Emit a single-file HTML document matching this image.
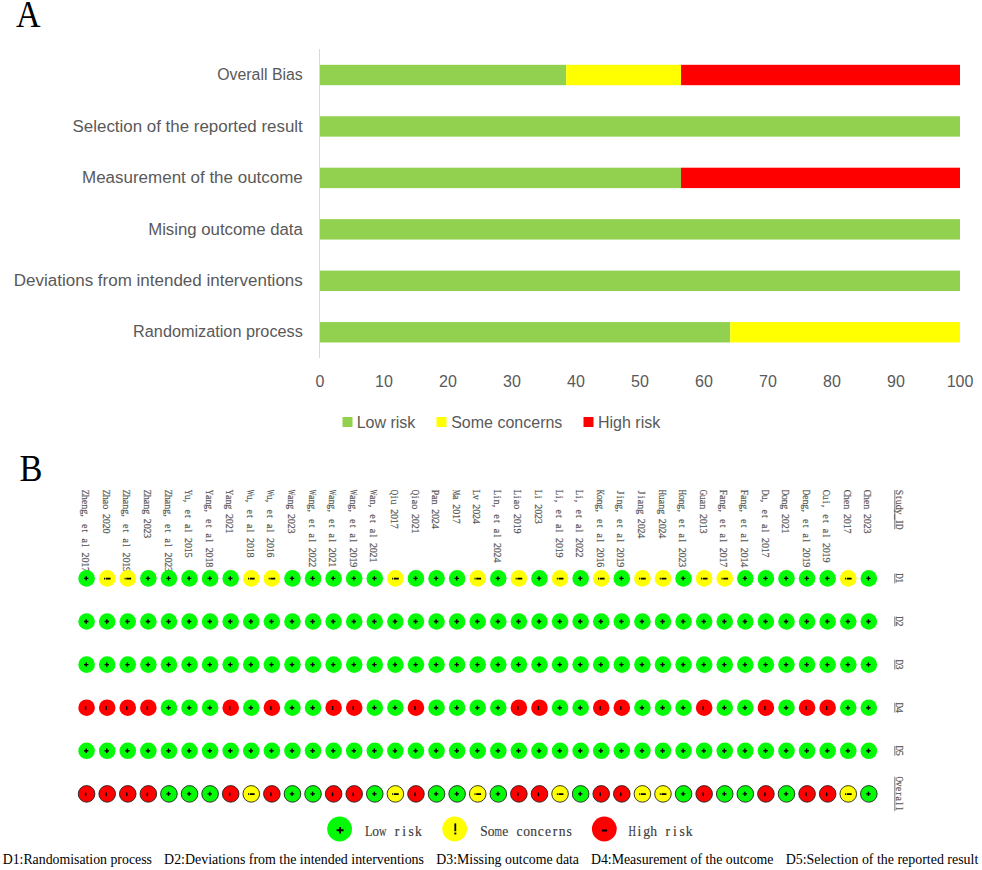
<!DOCTYPE html><html><head><meta charset="utf-8"><style>html,body{margin:0;padding:0;background:#fff;width:982px;height:870px;overflow:hidden}svg{display:block}</style></head><body>
<svg width="982" height="870" viewBox="0 0 982 870">
<text transform="translate(16.1,26.5) scale(0.92,1)" font-family="&quot;Liberation Serif&quot;, serif" font-size="37" fill="#000">A</text>
<line x1="319.5" y1="49" x2="319.5" y2="358" stroke="#d9d9d9" stroke-width="1"/>
<rect x="320.00" y="64.80" width="246.15" height="20.4" fill="#92d050"/>
<rect x="566.15" y="64.80" width="114.87" height="20.4" fill="#ffff00"/>
<rect x="681.03" y="64.80" width="278.97" height="20.4" fill="#ff0000"/>
<text x="217.2" y="80.2" font-family="&quot;Liberation Sans&quot;, sans-serif" font-size="16" fill="#595959" textLength="85.6" lengthAdjust="spacingAndGlyphs">Overall Bias</text>
<rect x="320.00" y="116.25" width="640.00" height="20.4" fill="#92d050"/>
<text x="72.6" y="131.7" font-family="&quot;Liberation Sans&quot;, sans-serif" font-size="16" fill="#595959" textLength="230.2" lengthAdjust="spacingAndGlyphs">Selection of the reported result</text>
<rect x="320.00" y="167.70" width="361.03" height="20.4" fill="#92d050"/>
<rect x="681.03" y="167.70" width="278.97" height="20.4" fill="#ff0000"/>
<text x="82.0" y="183.1" font-family="&quot;Liberation Sans&quot;, sans-serif" font-size="16" fill="#595959" textLength="220.8" lengthAdjust="spacingAndGlyphs">Measurement of the outcome</text>
<rect x="320.00" y="219.15" width="640.00" height="20.4" fill="#92d050"/>
<text x="148.2" y="234.6" font-family="&quot;Liberation Sans&quot;, sans-serif" font-size="16" fill="#595959" textLength="154.6" lengthAdjust="spacingAndGlyphs">Mising outcome data</text>
<rect x="320.00" y="270.60" width="640.00" height="20.4" fill="#92d050"/>
<text x="13.8" y="286.0" font-family="&quot;Liberation Sans&quot;, sans-serif" font-size="16" fill="#595959" textLength="289.0" lengthAdjust="spacingAndGlyphs">Deviations from intended interventions</text>
<rect x="320.00" y="322.05" width="410.26" height="20.4" fill="#92d050"/>
<rect x="730.26" y="322.05" width="229.74" height="20.4" fill="#ffff00"/>
<text x="133.1" y="337.4" font-family="&quot;Liberation Sans&quot;, sans-serif" font-size="16" fill="#595959" textLength="169.7" lengthAdjust="spacingAndGlyphs">Randomization process</text>
<text x="320" y="387.4" font-family="&quot;Liberation Sans&quot;, sans-serif" font-size="16" fill="#595959" text-anchor="middle">0</text>
<text x="384" y="387.4" font-family="&quot;Liberation Sans&quot;, sans-serif" font-size="16" fill="#595959" text-anchor="middle">10</text>
<text x="448" y="387.4" font-family="&quot;Liberation Sans&quot;, sans-serif" font-size="16" fill="#595959" text-anchor="middle">20</text>
<text x="512" y="387.4" font-family="&quot;Liberation Sans&quot;, sans-serif" font-size="16" fill="#595959" text-anchor="middle">30</text>
<text x="576" y="387.4" font-family="&quot;Liberation Sans&quot;, sans-serif" font-size="16" fill="#595959" text-anchor="middle">40</text>
<text x="640" y="387.4" font-family="&quot;Liberation Sans&quot;, sans-serif" font-size="16" fill="#595959" text-anchor="middle">50</text>
<text x="704" y="387.4" font-family="&quot;Liberation Sans&quot;, sans-serif" font-size="16" fill="#595959" text-anchor="middle">60</text>
<text x="768" y="387.4" font-family="&quot;Liberation Sans&quot;, sans-serif" font-size="16" fill="#595959" text-anchor="middle">70</text>
<text x="832" y="387.4" font-family="&quot;Liberation Sans&quot;, sans-serif" font-size="16" fill="#595959" text-anchor="middle">80</text>
<text x="896" y="387.4" font-family="&quot;Liberation Sans&quot;, sans-serif" font-size="16" fill="#595959" text-anchor="middle">90</text>
<text x="960" y="387.4" font-family="&quot;Liberation Sans&quot;, sans-serif" font-size="16" fill="#595959" text-anchor="middle">100</text>
<rect x="342.5" y="417" width="10" height="10" fill="#92d050"/>
<text x="356.7" y="427.5" font-family="&quot;Liberation Sans&quot;, sans-serif" font-size="16" fill="#595959">Low risk</text>
<rect x="436.5" y="417" width="10" height="10" fill="#ffff00"/>
<text x="451.2" y="427.5" font-family="&quot;Liberation Sans&quot;, sans-serif" font-size="16" fill="#595959">Some concerns</text>
<rect x="583.5" y="417" width="10" height="10" fill="#ff0000"/>
<text x="598" y="427.5" font-family="&quot;Liberation Sans&quot;, sans-serif" font-size="16" fill="#595959">High risk</text>
<text transform="translate(19.6,480.7) scale(0.93,1)" font-family="&quot;Liberation Serif&quot;, serif" font-size="37" fill="#000">B</text>
<g transform="translate(82.20,490) rotate(90)"><g font-family="&quot;Liberation Serif&quot;, serif" font-size="11.2" fill="#525252" stroke="#525252" stroke-width="0.18"><text transform="translate(2.41,0) scale(0.789,1)" text-anchor="middle">Z</text><text transform="translate(7.23,0) scale(0.900,1)" text-anchor="middle">h</text><text transform="translate(12.05,0) scale(0.900,1)" text-anchor="middle">e</text><text transform="translate(16.87,0) scale(0.900,1)" text-anchor="middle">n</text><text transform="translate(21.69,0) scale(0.900,1)" text-anchor="middle">g</text><text transform="translate(25.55,0) scale(0.900,1)" text-anchor="middle">,</text><text transform="translate(36.15,0) scale(0.900,1)" text-anchor="middle">e</text><text transform="translate(40.97,0) scale(0.900,1)" text-anchor="middle">t</text><text transform="translate(50.61,0) scale(0.900,1)" text-anchor="middle">a</text><text transform="translate(55.43,0) scale(0.900,1)" text-anchor="middle">l</text><text transform="translate(65.07,0) scale(0.900,1)" text-anchor="middle">2</text><text transform="translate(69.89,0) scale(0.900,1)" text-anchor="middle">0</text><text transform="translate(74.71,0) scale(0.900,1)" text-anchor="middle">1</text><text transform="translate(79.53,0) scale(0.900,1)" text-anchor="middle">7</text></g></g>
<g transform="translate(102.78,490) rotate(90)"><g font-family="&quot;Liberation Serif&quot;, serif" font-size="11.2" fill="#525252" stroke="#525252" stroke-width="0.18"><text transform="translate(2.41,0) scale(0.789,1)" text-anchor="middle">Z</text><text transform="translate(7.23,0) scale(0.900,1)" text-anchor="middle">h</text><text transform="translate(12.05,0) scale(0.900,1)" text-anchor="middle">a</text><text transform="translate(16.87,0) scale(0.900,1)" text-anchor="middle">o</text><text transform="translate(26.51,0) scale(0.900,1)" text-anchor="middle">2</text><text transform="translate(31.33,0) scale(0.900,1)" text-anchor="middle">0</text><text transform="translate(36.15,0) scale(0.900,1)" text-anchor="middle">2</text><text transform="translate(40.97,0) scale(0.900,1)" text-anchor="middle">0</text></g></g>
<g transform="translate(123.37,490) rotate(90)"><g font-family="&quot;Liberation Serif&quot;, serif" font-size="11.2" fill="#525252" stroke="#525252" stroke-width="0.18"><text transform="translate(2.41,0) scale(0.789,1)" text-anchor="middle">Z</text><text transform="translate(7.23,0) scale(0.900,1)" text-anchor="middle">h</text><text transform="translate(12.05,0) scale(0.900,1)" text-anchor="middle">a</text><text transform="translate(16.87,0) scale(0.900,1)" text-anchor="middle">n</text><text transform="translate(21.69,0) scale(0.900,1)" text-anchor="middle">g</text><text transform="translate(25.55,0) scale(0.900,1)" text-anchor="middle">,</text><text transform="translate(36.15,0) scale(0.900,1)" text-anchor="middle">e</text><text transform="translate(40.97,0) scale(0.900,1)" text-anchor="middle">t</text><text transform="translate(50.61,0) scale(0.900,1)" text-anchor="middle">a</text><text transform="translate(55.43,0) scale(0.900,1)" text-anchor="middle">l</text><text transform="translate(65.07,0) scale(0.900,1)" text-anchor="middle">2</text><text transform="translate(69.89,0) scale(0.900,1)" text-anchor="middle">0</text><text transform="translate(74.71,0) scale(0.900,1)" text-anchor="middle">1</text><text transform="translate(79.53,0) scale(0.900,1)" text-anchor="middle">9</text></g></g>
<g transform="translate(143.95,490) rotate(90)"><g font-family="&quot;Liberation Serif&quot;, serif" font-size="11.2" fill="#525252" stroke="#525252" stroke-width="0.18"><text transform="translate(2.41,0) scale(0.789,1)" text-anchor="middle">Z</text><text transform="translate(7.23,0) scale(0.900,1)" text-anchor="middle">h</text><text transform="translate(12.05,0) scale(0.900,1)" text-anchor="middle">a</text><text transform="translate(16.87,0) scale(0.900,1)" text-anchor="middle">n</text><text transform="translate(21.69,0) scale(0.900,1)" text-anchor="middle">g</text><text transform="translate(31.33,0) scale(0.900,1)" text-anchor="middle">2</text><text transform="translate(36.15,0) scale(0.900,1)" text-anchor="middle">0</text><text transform="translate(40.97,0) scale(0.900,1)" text-anchor="middle">2</text><text transform="translate(45.79,0) scale(0.900,1)" text-anchor="middle">3</text></g></g>
<g transform="translate(164.54,490) rotate(90)"><g font-family="&quot;Liberation Serif&quot;, serif" font-size="11.2" fill="#525252" stroke="#525252" stroke-width="0.18"><text transform="translate(2.41,0) scale(0.789,1)" text-anchor="middle">Z</text><text transform="translate(7.23,0) scale(0.900,1)" text-anchor="middle">h</text><text transform="translate(12.05,0) scale(0.900,1)" text-anchor="middle">a</text><text transform="translate(16.87,0) scale(0.900,1)" text-anchor="middle">n</text><text transform="translate(21.69,0) scale(0.900,1)" text-anchor="middle">g</text><text transform="translate(25.55,0) scale(0.900,1)" text-anchor="middle">,</text><text transform="translate(36.15,0) scale(0.900,1)" text-anchor="middle">e</text><text transform="translate(40.97,0) scale(0.900,1)" text-anchor="middle">t</text><text transform="translate(50.61,0) scale(0.900,1)" text-anchor="middle">a</text><text transform="translate(55.43,0) scale(0.900,1)" text-anchor="middle">l</text><text transform="translate(65.07,0) scale(0.900,1)" text-anchor="middle">2</text><text transform="translate(69.89,0) scale(0.900,1)" text-anchor="middle">0</text><text transform="translate(74.71,0) scale(0.900,1)" text-anchor="middle">2</text><text transform="translate(79.53,0) scale(0.900,1)" text-anchor="middle">3</text></g></g>
<g transform="translate(185.12,490) rotate(90)"><g font-family="&quot;Liberation Serif&quot;, serif" font-size="11.2" fill="#525252" stroke="#525252" stroke-width="0.18"><text transform="translate(2.41,0) scale(0.667,1)" text-anchor="middle">Y</text><text transform="translate(7.23,0) scale(0.900,1)" text-anchor="middle">u</text><text transform="translate(11.09,0) scale(0.900,1)" text-anchor="middle">,</text><text transform="translate(21.69,0) scale(0.900,1)" text-anchor="middle">e</text><text transform="translate(26.51,0) scale(0.900,1)" text-anchor="middle">t</text><text transform="translate(36.15,0) scale(0.900,1)" text-anchor="middle">a</text><text transform="translate(40.97,0) scale(0.900,1)" text-anchor="middle">l</text><text transform="translate(50.61,0) scale(0.900,1)" text-anchor="middle">2</text><text transform="translate(55.43,0) scale(0.900,1)" text-anchor="middle">0</text><text transform="translate(60.25,0) scale(0.900,1)" text-anchor="middle">1</text><text transform="translate(65.07,0) scale(0.900,1)" text-anchor="middle">5</text></g></g>
<g transform="translate(205.71,490) rotate(90)"><g font-family="&quot;Liberation Serif&quot;, serif" font-size="11.2" fill="#525252" stroke="#525252" stroke-width="0.18"><text transform="translate(2.41,0) scale(0.667,1)" text-anchor="middle">Y</text><text transform="translate(7.23,0) scale(0.900,1)" text-anchor="middle">a</text><text transform="translate(12.05,0) scale(0.900,1)" text-anchor="middle">n</text><text transform="translate(16.87,0) scale(0.900,1)" text-anchor="middle">g</text><text transform="translate(20.73,0) scale(0.900,1)" text-anchor="middle">,</text><text transform="translate(31.33,0) scale(0.900,1)" text-anchor="middle">e</text><text transform="translate(36.15,0) scale(0.900,1)" text-anchor="middle">t</text><text transform="translate(45.79,0) scale(0.900,1)" text-anchor="middle">a</text><text transform="translate(50.61,0) scale(0.900,1)" text-anchor="middle">l</text><text transform="translate(60.25,0) scale(0.900,1)" text-anchor="middle">2</text><text transform="translate(65.07,0) scale(0.900,1)" text-anchor="middle">0</text><text transform="translate(69.89,0) scale(0.900,1)" text-anchor="middle">1</text><text transform="translate(74.71,0) scale(0.900,1)" text-anchor="middle">8</text></g></g>
<g transform="translate(226.29,490) rotate(90)"><g font-family="&quot;Liberation Serif&quot;, serif" font-size="11.2" fill="#525252" stroke="#525252" stroke-width="0.18"><text transform="translate(2.41,0) scale(0.667,1)" text-anchor="middle">Y</text><text transform="translate(7.23,0) scale(0.900,1)" text-anchor="middle">a</text><text transform="translate(12.05,0) scale(0.900,1)" text-anchor="middle">n</text><text transform="translate(16.87,0) scale(0.900,1)" text-anchor="middle">g</text><text transform="translate(26.51,0) scale(0.900,1)" text-anchor="middle">2</text><text transform="translate(31.33,0) scale(0.900,1)" text-anchor="middle">0</text><text transform="translate(36.15,0) scale(0.900,1)" text-anchor="middle">2</text><text transform="translate(40.97,0) scale(0.900,1)" text-anchor="middle">1</text></g></g>
<g transform="translate(246.88,490) rotate(90)"><g font-family="&quot;Liberation Serif&quot;, serif" font-size="11.2" fill="#525252" stroke="#525252" stroke-width="0.18"><text transform="translate(2.41,0) scale(0.511,1)" text-anchor="middle">W</text><text transform="translate(7.23,0) scale(0.900,1)" text-anchor="middle">u</text><text transform="translate(11.09,0) scale(0.900,1)" text-anchor="middle">,</text><text transform="translate(21.69,0) scale(0.900,1)" text-anchor="middle">e</text><text transform="translate(26.51,0) scale(0.900,1)" text-anchor="middle">t</text><text transform="translate(36.15,0) scale(0.900,1)" text-anchor="middle">a</text><text transform="translate(40.97,0) scale(0.900,1)" text-anchor="middle">l</text><text transform="translate(50.61,0) scale(0.900,1)" text-anchor="middle">2</text><text transform="translate(55.43,0) scale(0.900,1)" text-anchor="middle">0</text><text transform="translate(60.25,0) scale(0.900,1)" text-anchor="middle">1</text><text transform="translate(65.07,0) scale(0.900,1)" text-anchor="middle">8</text></g></g>
<g transform="translate(267.47,490) rotate(90)"><g font-family="&quot;Liberation Serif&quot;, serif" font-size="11.2" fill="#525252" stroke="#525252" stroke-width="0.18"><text transform="translate(2.41,0) scale(0.511,1)" text-anchor="middle">W</text><text transform="translate(7.23,0) scale(0.900,1)" text-anchor="middle">u</text><text transform="translate(11.09,0) scale(0.900,1)" text-anchor="middle">,</text><text transform="translate(21.69,0) scale(0.900,1)" text-anchor="middle">e</text><text transform="translate(26.51,0) scale(0.900,1)" text-anchor="middle">t</text><text transform="translate(36.15,0) scale(0.900,1)" text-anchor="middle">a</text><text transform="translate(40.97,0) scale(0.900,1)" text-anchor="middle">l</text><text transform="translate(50.61,0) scale(0.900,1)" text-anchor="middle">2</text><text transform="translate(55.43,0) scale(0.900,1)" text-anchor="middle">0</text><text transform="translate(60.25,0) scale(0.900,1)" text-anchor="middle">1</text><text transform="translate(65.07,0) scale(0.900,1)" text-anchor="middle">6</text></g></g>
<g transform="translate(288.05,490) rotate(90)"><g font-family="&quot;Liberation Serif&quot;, serif" font-size="11.2" fill="#525252" stroke="#525252" stroke-width="0.18"><text transform="translate(2.41,0) scale(0.511,1)" text-anchor="middle">W</text><text transform="translate(7.23,0) scale(0.900,1)" text-anchor="middle">a</text><text transform="translate(12.05,0) scale(0.900,1)" text-anchor="middle">n</text><text transform="translate(16.87,0) scale(0.900,1)" text-anchor="middle">g</text><text transform="translate(26.51,0) scale(0.900,1)" text-anchor="middle">2</text><text transform="translate(31.33,0) scale(0.900,1)" text-anchor="middle">0</text><text transform="translate(36.15,0) scale(0.900,1)" text-anchor="middle">2</text><text transform="translate(40.97,0) scale(0.900,1)" text-anchor="middle">3</text></g></g>
<g transform="translate(308.63,490) rotate(90)"><g font-family="&quot;Liberation Serif&quot;, serif" font-size="11.2" fill="#525252" stroke="#525252" stroke-width="0.18"><text transform="translate(2.41,0) scale(0.511,1)" text-anchor="middle">W</text><text transform="translate(7.23,0) scale(0.900,1)" text-anchor="middle">a</text><text transform="translate(12.05,0) scale(0.900,1)" text-anchor="middle">n</text><text transform="translate(16.87,0) scale(0.900,1)" text-anchor="middle">g</text><text transform="translate(20.73,0) scale(0.900,1)" text-anchor="middle">,</text><text transform="translate(31.33,0) scale(0.900,1)" text-anchor="middle">e</text><text transform="translate(36.15,0) scale(0.900,1)" text-anchor="middle">t</text><text transform="translate(45.79,0) scale(0.900,1)" text-anchor="middle">a</text><text transform="translate(50.61,0) scale(0.900,1)" text-anchor="middle">l</text><text transform="translate(60.25,0) scale(0.900,1)" text-anchor="middle">2</text><text transform="translate(65.07,0) scale(0.900,1)" text-anchor="middle">0</text><text transform="translate(69.89,0) scale(0.900,1)" text-anchor="middle">2</text><text transform="translate(74.71,0) scale(0.900,1)" text-anchor="middle">2</text></g></g>
<g transform="translate(329.22,490) rotate(90)"><g font-family="&quot;Liberation Serif&quot;, serif" font-size="11.2" fill="#525252" stroke="#525252" stroke-width="0.18"><text transform="translate(2.41,0) scale(0.511,1)" text-anchor="middle">W</text><text transform="translate(7.23,0) scale(0.900,1)" text-anchor="middle">a</text><text transform="translate(12.05,0) scale(0.900,1)" text-anchor="middle">n</text><text transform="translate(16.87,0) scale(0.900,1)" text-anchor="middle">g</text><text transform="translate(20.73,0) scale(0.900,1)" text-anchor="middle">,</text><text transform="translate(31.33,0) scale(0.900,1)" text-anchor="middle">e</text><text transform="translate(36.15,0) scale(0.900,1)" text-anchor="middle">t</text><text transform="translate(45.79,0) scale(0.900,1)" text-anchor="middle">a</text><text transform="translate(50.61,0) scale(0.900,1)" text-anchor="middle">l</text><text transform="translate(60.25,0) scale(0.900,1)" text-anchor="middle">2</text><text transform="translate(65.07,0) scale(0.900,1)" text-anchor="middle">0</text><text transform="translate(69.89,0) scale(0.900,1)" text-anchor="middle">2</text><text transform="translate(74.71,0) scale(0.900,1)" text-anchor="middle">1</text></g></g>
<g transform="translate(349.81,490) rotate(90)"><g font-family="&quot;Liberation Serif&quot;, serif" font-size="11.2" fill="#525252" stroke="#525252" stroke-width="0.18"><text transform="translate(2.41,0) scale(0.511,1)" text-anchor="middle">W</text><text transform="translate(7.23,0) scale(0.900,1)" text-anchor="middle">a</text><text transform="translate(12.05,0) scale(0.900,1)" text-anchor="middle">n</text><text transform="translate(16.87,0) scale(0.900,1)" text-anchor="middle">g</text><text transform="translate(20.73,0) scale(0.900,1)" text-anchor="middle">,</text><text transform="translate(31.33,0) scale(0.900,1)" text-anchor="middle">e</text><text transform="translate(36.15,0) scale(0.900,1)" text-anchor="middle">t</text><text transform="translate(45.79,0) scale(0.900,1)" text-anchor="middle">a</text><text transform="translate(50.61,0) scale(0.900,1)" text-anchor="middle">l</text><text transform="translate(60.25,0) scale(0.900,1)" text-anchor="middle">2</text><text transform="translate(65.07,0) scale(0.900,1)" text-anchor="middle">0</text><text transform="translate(69.89,0) scale(0.900,1)" text-anchor="middle">1</text><text transform="translate(74.71,0) scale(0.900,1)" text-anchor="middle">9</text></g></g>
<g transform="translate(370.39,490) rotate(90)"><g font-family="&quot;Liberation Serif&quot;, serif" font-size="11.2" fill="#525252" stroke="#525252" stroke-width="0.18"><text transform="translate(2.41,0) scale(0.511,1)" text-anchor="middle">W</text><text transform="translate(7.23,0) scale(0.900,1)" text-anchor="middle">a</text><text transform="translate(12.05,0) scale(0.900,1)" text-anchor="middle">n</text><text transform="translate(15.91,0) scale(0.900,1)" text-anchor="middle">,</text><text transform="translate(26.51,0) scale(0.900,1)" text-anchor="middle">e</text><text transform="translate(31.33,0) scale(0.900,1)" text-anchor="middle">t</text><text transform="translate(40.97,0) scale(0.900,1)" text-anchor="middle">a</text><text transform="translate(45.79,0) scale(0.900,1)" text-anchor="middle">l</text><text transform="translate(55.43,0) scale(0.900,1)" text-anchor="middle">2</text><text transform="translate(60.25,0) scale(0.900,1)" text-anchor="middle">0</text><text transform="translate(65.07,0) scale(0.900,1)" text-anchor="middle">2</text><text transform="translate(69.89,0) scale(0.900,1)" text-anchor="middle">1</text></g></g>
<g transform="translate(390.98,490) rotate(90)"><g font-family="&quot;Liberation Serif&quot;, serif" font-size="11.2" fill="#525252" stroke="#525252" stroke-width="0.18"><text transform="translate(2.41,0) scale(0.667,1)" text-anchor="middle">Q</text><text transform="translate(7.23,0) scale(0.900,1)" text-anchor="middle">i</text><text transform="translate(12.05,0) scale(0.900,1)" text-anchor="middle">u</text><text transform="translate(21.69,0) scale(0.900,1)" text-anchor="middle">2</text><text transform="translate(26.51,0) scale(0.900,1)" text-anchor="middle">0</text><text transform="translate(31.33,0) scale(0.900,1)" text-anchor="middle">1</text><text transform="translate(36.15,0) scale(0.900,1)" text-anchor="middle">7</text></g></g>
<g transform="translate(411.56,490) rotate(90)"><g font-family="&quot;Liberation Serif&quot;, serif" font-size="11.2" fill="#525252" stroke="#525252" stroke-width="0.18"><text transform="translate(2.41,0) scale(0.667,1)" text-anchor="middle">Q</text><text transform="translate(7.23,0) scale(0.900,1)" text-anchor="middle">i</text><text transform="translate(12.05,0) scale(0.900,1)" text-anchor="middle">a</text><text transform="translate(16.87,0) scale(0.900,1)" text-anchor="middle">o</text><text transform="translate(26.51,0) scale(0.900,1)" text-anchor="middle">2</text><text transform="translate(31.33,0) scale(0.900,1)" text-anchor="middle">0</text><text transform="translate(36.15,0) scale(0.900,1)" text-anchor="middle">2</text><text transform="translate(40.97,0) scale(0.900,1)" text-anchor="middle">1</text></g></g>
<g transform="translate(432.14,490) rotate(90)"><g font-family="&quot;Liberation Serif&quot;, serif" font-size="11.2" fill="#525252" stroke="#525252" stroke-width="0.18"><text transform="translate(2.41,0) scale(0.867,1)" text-anchor="middle">P</text><text transform="translate(7.23,0) scale(0.900,1)" text-anchor="middle">a</text><text transform="translate(12.05,0) scale(0.900,1)" text-anchor="middle">n</text><text transform="translate(21.69,0) scale(0.900,1)" text-anchor="middle">2</text><text transform="translate(26.51,0) scale(0.900,1)" text-anchor="middle">0</text><text transform="translate(31.33,0) scale(0.900,1)" text-anchor="middle">2</text><text transform="translate(36.15,0) scale(0.900,1)" text-anchor="middle">4</text></g></g>
<g transform="translate(452.73,490) rotate(90)"><g font-family="&quot;Liberation Serif&quot;, serif" font-size="11.2" fill="#525252" stroke="#525252" stroke-width="0.18"><text transform="translate(2.41,0) scale(0.542,1)" text-anchor="middle">M</text><text transform="translate(7.23,0) scale(0.900,1)" text-anchor="middle">a</text><text transform="translate(16.87,0) scale(0.900,1)" text-anchor="middle">2</text><text transform="translate(21.69,0) scale(0.900,1)" text-anchor="middle">0</text><text transform="translate(26.51,0) scale(0.900,1)" text-anchor="middle">1</text><text transform="translate(31.33,0) scale(0.900,1)" text-anchor="middle">7</text></g></g>
<g transform="translate(473.32,490) rotate(90)"><g font-family="&quot;Liberation Serif&quot;, serif" font-size="11.2" fill="#525252" stroke="#525252" stroke-width="0.18"><text transform="translate(2.41,0) scale(0.789,1)" text-anchor="middle">L</text><text transform="translate(7.23,0) scale(0.900,1)" text-anchor="middle">v</text><text transform="translate(16.87,0) scale(0.900,1)" text-anchor="middle">2</text><text transform="translate(21.69,0) scale(0.900,1)" text-anchor="middle">0</text><text transform="translate(26.51,0) scale(0.900,1)" text-anchor="middle">2</text><text transform="translate(31.33,0) scale(0.900,1)" text-anchor="middle">4</text></g></g>
<g transform="translate(493.90,490) rotate(90)"><g font-family="&quot;Liberation Serif&quot;, serif" font-size="11.2" fill="#525252" stroke="#525252" stroke-width="0.18"><text transform="translate(2.41,0) scale(0.789,1)" text-anchor="middle">L</text><text transform="translate(7.23,0) scale(0.900,1)" text-anchor="middle">i</text><text transform="translate(12.05,0) scale(0.900,1)" text-anchor="middle">n</text><text transform="translate(15.91,0) scale(0.900,1)" text-anchor="middle">,</text><text transform="translate(26.51,0) scale(0.900,1)" text-anchor="middle">e</text><text transform="translate(31.33,0) scale(0.900,1)" text-anchor="middle">t</text><text transform="translate(40.97,0) scale(0.900,1)" text-anchor="middle">a</text><text transform="translate(45.79,0) scale(0.900,1)" text-anchor="middle">l</text><text transform="translate(55.43,0) scale(0.900,1)" text-anchor="middle">2</text><text transform="translate(60.25,0) scale(0.900,1)" text-anchor="middle">0</text><text transform="translate(65.07,0) scale(0.900,1)" text-anchor="middle">2</text><text transform="translate(69.89,0) scale(0.900,1)" text-anchor="middle">4</text></g></g>
<g transform="translate(514.49,490) rotate(90)"><g font-family="&quot;Liberation Serif&quot;, serif" font-size="11.2" fill="#525252" stroke="#525252" stroke-width="0.18"><text transform="translate(2.41,0) scale(0.789,1)" text-anchor="middle">L</text><text transform="translate(7.23,0) scale(0.900,1)" text-anchor="middle">i</text><text transform="translate(12.05,0) scale(0.900,1)" text-anchor="middle">a</text><text transform="translate(16.87,0) scale(0.900,1)" text-anchor="middle">o</text><text transform="translate(26.51,0) scale(0.900,1)" text-anchor="middle">2</text><text transform="translate(31.33,0) scale(0.900,1)" text-anchor="middle">0</text><text transform="translate(36.15,0) scale(0.900,1)" text-anchor="middle">1</text><text transform="translate(40.97,0) scale(0.900,1)" text-anchor="middle">9</text></g></g>
<g transform="translate(535.07,490) rotate(90)"><g font-family="&quot;Liberation Serif&quot;, serif" font-size="11.2" fill="#525252" stroke="#525252" stroke-width="0.18"><text transform="translate(2.41,0) scale(0.789,1)" text-anchor="middle">L</text><text transform="translate(7.23,0) scale(0.900,1)" text-anchor="middle">i</text><text transform="translate(16.87,0) scale(0.900,1)" text-anchor="middle">2</text><text transform="translate(21.69,0) scale(0.900,1)" text-anchor="middle">0</text><text transform="translate(26.51,0) scale(0.900,1)" text-anchor="middle">2</text><text transform="translate(31.33,0) scale(0.900,1)" text-anchor="middle">3</text></g></g>
<g transform="translate(555.66,490) rotate(90)"><g font-family="&quot;Liberation Serif&quot;, serif" font-size="11.2" fill="#525252" stroke="#525252" stroke-width="0.18"><text transform="translate(2.41,0) scale(0.789,1)" text-anchor="middle">L</text><text transform="translate(7.23,0) scale(0.900,1)" text-anchor="middle">i</text><text transform="translate(11.09,0) scale(0.900,1)" text-anchor="middle">,</text><text transform="translate(21.69,0) scale(0.900,1)" text-anchor="middle">e</text><text transform="translate(26.51,0) scale(0.900,1)" text-anchor="middle">t</text><text transform="translate(36.15,0) scale(0.900,1)" text-anchor="middle">a</text><text transform="translate(40.97,0) scale(0.900,1)" text-anchor="middle">l</text><text transform="translate(50.61,0) scale(0.900,1)" text-anchor="middle">2</text><text transform="translate(55.43,0) scale(0.900,1)" text-anchor="middle">0</text><text transform="translate(60.25,0) scale(0.900,1)" text-anchor="middle">1</text><text transform="translate(65.07,0) scale(0.900,1)" text-anchor="middle">9</text></g></g>
<g transform="translate(576.24,490) rotate(90)"><g font-family="&quot;Liberation Serif&quot;, serif" font-size="11.2" fill="#525252" stroke="#525252" stroke-width="0.18"><text transform="translate(2.41,0) scale(0.789,1)" text-anchor="middle">L</text><text transform="translate(7.23,0) scale(0.900,1)" text-anchor="middle">i</text><text transform="translate(11.09,0) scale(0.900,1)" text-anchor="middle">,</text><text transform="translate(21.69,0) scale(0.900,1)" text-anchor="middle">e</text><text transform="translate(26.51,0) scale(0.900,1)" text-anchor="middle">t</text><text transform="translate(36.15,0) scale(0.900,1)" text-anchor="middle">a</text><text transform="translate(40.97,0) scale(0.900,1)" text-anchor="middle">l</text><text transform="translate(50.61,0) scale(0.900,1)" text-anchor="middle">2</text><text transform="translate(55.43,0) scale(0.900,1)" text-anchor="middle">0</text><text transform="translate(60.25,0) scale(0.900,1)" text-anchor="middle">2</text><text transform="translate(65.07,0) scale(0.900,1)" text-anchor="middle">2</text></g></g>
<g transform="translate(596.83,490) rotate(90)"><g font-family="&quot;Liberation Serif&quot;, serif" font-size="11.2" fill="#525252" stroke="#525252" stroke-width="0.18"><text transform="translate(2.41,0) scale(0.667,1)" text-anchor="middle">K</text><text transform="translate(7.23,0) scale(0.900,1)" text-anchor="middle">o</text><text transform="translate(12.05,0) scale(0.900,1)" text-anchor="middle">n</text><text transform="translate(16.87,0) scale(0.900,1)" text-anchor="middle">g</text><text transform="translate(20.73,0) scale(0.900,1)" text-anchor="middle">,</text><text transform="translate(31.33,0) scale(0.900,1)" text-anchor="middle">e</text><text transform="translate(36.15,0) scale(0.900,1)" text-anchor="middle">t</text><text transform="translate(45.79,0) scale(0.900,1)" text-anchor="middle">a</text><text transform="translate(50.61,0) scale(0.900,1)" text-anchor="middle">l</text><text transform="translate(60.25,0) scale(0.900,1)" text-anchor="middle">2</text><text transform="translate(65.07,0) scale(0.900,1)" text-anchor="middle">0</text><text transform="translate(69.89,0) scale(0.900,1)" text-anchor="middle">1</text><text transform="translate(74.71,0) scale(0.900,1)" text-anchor="middle">6</text></g></g>
<g transform="translate(617.41,490) rotate(90)"><g font-family="&quot;Liberation Serif&quot;, serif" font-size="11.2" fill="#525252" stroke="#525252" stroke-width="0.18"><text transform="translate(2.41,0) scale(0.900,1)" text-anchor="middle">J</text><text transform="translate(7.23,0) scale(0.900,1)" text-anchor="middle">i</text><text transform="translate(12.05,0) scale(0.900,1)" text-anchor="middle">n</text><text transform="translate(16.87,0) scale(0.900,1)" text-anchor="middle">g</text><text transform="translate(20.73,0) scale(0.900,1)" text-anchor="middle">,</text><text transform="translate(31.33,0) scale(0.900,1)" text-anchor="middle">e</text><text transform="translate(36.15,0) scale(0.900,1)" text-anchor="middle">t</text><text transform="translate(45.79,0) scale(0.900,1)" text-anchor="middle">a</text><text transform="translate(50.61,0) scale(0.900,1)" text-anchor="middle">l</text><text transform="translate(60.25,0) scale(0.900,1)" text-anchor="middle">2</text><text transform="translate(65.07,0) scale(0.900,1)" text-anchor="middle">0</text><text transform="translate(69.89,0) scale(0.900,1)" text-anchor="middle">1</text><text transform="translate(74.71,0) scale(0.900,1)" text-anchor="middle">9</text></g></g>
<g transform="translate(638.00,490) rotate(90)"><g font-family="&quot;Liberation Serif&quot;, serif" font-size="11.2" fill="#525252" stroke="#525252" stroke-width="0.18"><text transform="translate(2.41,0) scale(0.900,1)" text-anchor="middle">J</text><text transform="translate(7.23,0) scale(0.900,1)" text-anchor="middle">i</text><text transform="translate(12.05,0) scale(0.900,1)" text-anchor="middle">a</text><text transform="translate(16.87,0) scale(0.900,1)" text-anchor="middle">n</text><text transform="translate(21.69,0) scale(0.900,1)" text-anchor="middle">g</text><text transform="translate(31.33,0) scale(0.900,1)" text-anchor="middle">2</text><text transform="translate(36.15,0) scale(0.900,1)" text-anchor="middle">0</text><text transform="translate(40.97,0) scale(0.900,1)" text-anchor="middle">2</text><text transform="translate(45.79,0) scale(0.900,1)" text-anchor="middle">4</text></g></g>
<g transform="translate(658.58,490) rotate(90)"><g font-family="&quot;Liberation Serif&quot;, serif" font-size="11.2" fill="#525252" stroke="#525252" stroke-width="0.18"><text transform="translate(2.41,0) scale(0.667,1)" text-anchor="middle">H</text><text transform="translate(7.23,0) scale(0.900,1)" text-anchor="middle">u</text><text transform="translate(12.05,0) scale(0.900,1)" text-anchor="middle">a</text><text transform="translate(16.87,0) scale(0.900,1)" text-anchor="middle">n</text><text transform="translate(21.69,0) scale(0.900,1)" text-anchor="middle">g</text><text transform="translate(31.33,0) scale(0.900,1)" text-anchor="middle">2</text><text transform="translate(36.15,0) scale(0.900,1)" text-anchor="middle">0</text><text transform="translate(40.97,0) scale(0.900,1)" text-anchor="middle">2</text><text transform="translate(45.79,0) scale(0.900,1)" text-anchor="middle">4</text></g></g>
<g transform="translate(679.17,490) rotate(90)"><g font-family="&quot;Liberation Serif&quot;, serif" font-size="11.2" fill="#525252" stroke="#525252" stroke-width="0.18"><text transform="translate(2.41,0) scale(0.667,1)" text-anchor="middle">H</text><text transform="translate(7.23,0) scale(0.900,1)" text-anchor="middle">o</text><text transform="translate(12.05,0) scale(0.900,1)" text-anchor="middle">n</text><text transform="translate(16.87,0) scale(0.900,1)" text-anchor="middle">g</text><text transform="translate(20.73,0) scale(0.900,1)" text-anchor="middle">,</text><text transform="translate(31.33,0) scale(0.900,1)" text-anchor="middle">e</text><text transform="translate(36.15,0) scale(0.900,1)" text-anchor="middle">t</text><text transform="translate(45.79,0) scale(0.900,1)" text-anchor="middle">a</text><text transform="translate(50.61,0) scale(0.900,1)" text-anchor="middle">l</text><text transform="translate(60.25,0) scale(0.900,1)" text-anchor="middle">2</text><text transform="translate(65.07,0) scale(0.900,1)" text-anchor="middle">0</text><text transform="translate(69.89,0) scale(0.900,1)" text-anchor="middle">2</text><text transform="translate(74.71,0) scale(0.900,1)" text-anchor="middle">3</text></g></g>
<g transform="translate(699.75,490) rotate(90)"><g font-family="&quot;Liberation Serif&quot;, serif" font-size="11.2" fill="#525252" stroke="#525252" stroke-width="0.18"><text transform="translate(2.41,0) scale(0.667,1)" text-anchor="middle">G</text><text transform="translate(7.23,0) scale(0.900,1)" text-anchor="middle">u</text><text transform="translate(12.05,0) scale(0.900,1)" text-anchor="middle">a</text><text transform="translate(16.87,0) scale(0.900,1)" text-anchor="middle">n</text><text transform="translate(26.51,0) scale(0.900,1)" text-anchor="middle">2</text><text transform="translate(31.33,0) scale(0.900,1)" text-anchor="middle">0</text><text transform="translate(36.15,0) scale(0.900,1)" text-anchor="middle">1</text><text transform="translate(40.97,0) scale(0.900,1)" text-anchor="middle">3</text></g></g>
<g transform="translate(720.34,490) rotate(90)"><g font-family="&quot;Liberation Serif&quot;, serif" font-size="11.2" fill="#525252" stroke="#525252" stroke-width="0.18"><text transform="translate(2.41,0) scale(0.867,1)" text-anchor="middle">F</text><text transform="translate(7.23,0) scale(0.900,1)" text-anchor="middle">a</text><text transform="translate(12.05,0) scale(0.900,1)" text-anchor="middle">n</text><text transform="translate(16.87,0) scale(0.900,1)" text-anchor="middle">g</text><text transform="translate(20.73,0) scale(0.900,1)" text-anchor="middle">,</text><text transform="translate(31.33,0) scale(0.900,1)" text-anchor="middle">e</text><text transform="translate(36.15,0) scale(0.900,1)" text-anchor="middle">t</text><text transform="translate(45.79,0) scale(0.900,1)" text-anchor="middle">a</text><text transform="translate(50.61,0) scale(0.900,1)" text-anchor="middle">l</text><text transform="translate(60.25,0) scale(0.900,1)" text-anchor="middle">2</text><text transform="translate(65.07,0) scale(0.900,1)" text-anchor="middle">0</text><text transform="translate(69.89,0) scale(0.900,1)" text-anchor="middle">1</text><text transform="translate(74.71,0) scale(0.900,1)" text-anchor="middle">7</text></g></g>
<g transform="translate(740.92,490) rotate(90)"><g font-family="&quot;Liberation Serif&quot;, serif" font-size="11.2" fill="#525252" stroke="#525252" stroke-width="0.18"><text transform="translate(2.41,0) scale(0.867,1)" text-anchor="middle">F</text><text transform="translate(7.23,0) scale(0.900,1)" text-anchor="middle">a</text><text transform="translate(12.05,0) scale(0.900,1)" text-anchor="middle">n</text><text transform="translate(16.87,0) scale(0.900,1)" text-anchor="middle">g</text><text transform="translate(20.73,0) scale(0.900,1)" text-anchor="middle">,</text><text transform="translate(31.33,0) scale(0.900,1)" text-anchor="middle">e</text><text transform="translate(36.15,0) scale(0.900,1)" text-anchor="middle">t</text><text transform="translate(45.79,0) scale(0.900,1)" text-anchor="middle">a</text><text transform="translate(50.61,0) scale(0.900,1)" text-anchor="middle">l</text><text transform="translate(60.25,0) scale(0.900,1)" text-anchor="middle">2</text><text transform="translate(65.07,0) scale(0.900,1)" text-anchor="middle">0</text><text transform="translate(69.89,0) scale(0.900,1)" text-anchor="middle">1</text><text transform="translate(74.71,0) scale(0.900,1)" text-anchor="middle">4</text></g></g>
<g transform="translate(761.51,490) rotate(90)"><g font-family="&quot;Liberation Serif&quot;, serif" font-size="11.2" fill="#525252" stroke="#525252" stroke-width="0.18"><text transform="translate(2.41,0) scale(0.667,1)" text-anchor="middle">D</text><text transform="translate(7.23,0) scale(0.900,1)" text-anchor="middle">u</text><text transform="translate(11.09,0) scale(0.900,1)" text-anchor="middle">,</text><text transform="translate(21.69,0) scale(0.900,1)" text-anchor="middle">e</text><text transform="translate(26.51,0) scale(0.900,1)" text-anchor="middle">t</text><text transform="translate(36.15,0) scale(0.900,1)" text-anchor="middle">a</text><text transform="translate(40.97,0) scale(0.900,1)" text-anchor="middle">l</text><text transform="translate(50.61,0) scale(0.900,1)" text-anchor="middle">2</text><text transform="translate(55.43,0) scale(0.900,1)" text-anchor="middle">0</text><text transform="translate(60.25,0) scale(0.900,1)" text-anchor="middle">1</text><text transform="translate(65.07,0) scale(0.900,1)" text-anchor="middle">7</text></g></g>
<g transform="translate(782.09,490) rotate(90)"><g font-family="&quot;Liberation Serif&quot;, serif" font-size="11.2" fill="#525252" stroke="#525252" stroke-width="0.18"><text transform="translate(2.41,0) scale(0.667,1)" text-anchor="middle">D</text><text transform="translate(7.23,0) scale(0.900,1)" text-anchor="middle">o</text><text transform="translate(12.05,0) scale(0.900,1)" text-anchor="middle">n</text><text transform="translate(16.87,0) scale(0.900,1)" text-anchor="middle">g</text><text transform="translate(26.51,0) scale(0.900,1)" text-anchor="middle">2</text><text transform="translate(31.33,0) scale(0.900,1)" text-anchor="middle">0</text><text transform="translate(36.15,0) scale(0.900,1)" text-anchor="middle">2</text><text transform="translate(40.97,0) scale(0.900,1)" text-anchor="middle">1</text></g></g>
<g transform="translate(802.68,490) rotate(90)"><g font-family="&quot;Liberation Serif&quot;, serif" font-size="11.2" fill="#525252" stroke="#525252" stroke-width="0.18"><text transform="translate(2.41,0) scale(0.667,1)" text-anchor="middle">D</text><text transform="translate(7.23,0) scale(0.900,1)" text-anchor="middle">e</text><text transform="translate(12.05,0) scale(0.900,1)" text-anchor="middle">n</text><text transform="translate(16.87,0) scale(0.900,1)" text-anchor="middle">g</text><text transform="translate(20.73,0) scale(0.900,1)" text-anchor="middle">,</text><text transform="translate(31.33,0) scale(0.900,1)" text-anchor="middle">e</text><text transform="translate(36.15,0) scale(0.900,1)" text-anchor="middle">t</text><text transform="translate(45.79,0) scale(0.900,1)" text-anchor="middle">a</text><text transform="translate(50.61,0) scale(0.900,1)" text-anchor="middle">l</text><text transform="translate(60.25,0) scale(0.900,1)" text-anchor="middle">2</text><text transform="translate(65.07,0) scale(0.900,1)" text-anchor="middle">0</text><text transform="translate(69.89,0) scale(0.900,1)" text-anchor="middle">1</text><text transform="translate(74.71,0) scale(0.900,1)" text-anchor="middle">9</text></g></g>
<g transform="translate(823.26,490) rotate(90)"><g font-family="&quot;Liberation Serif&quot;, serif" font-size="11.2" fill="#525252" stroke="#525252" stroke-width="0.18"><text transform="translate(2.41,0) scale(0.723,1)" text-anchor="middle">C</text><text transform="translate(7.23,0) scale(0.900,1)" text-anchor="middle">u</text><text transform="translate(12.05,0) scale(0.900,1)" text-anchor="middle">i</text><text transform="translate(15.91,0) scale(0.900,1)" text-anchor="middle">,</text><text transform="translate(26.51,0) scale(0.900,1)" text-anchor="middle">e</text><text transform="translate(31.33,0) scale(0.900,1)" text-anchor="middle">t</text><text transform="translate(40.97,0) scale(0.900,1)" text-anchor="middle">a</text><text transform="translate(45.79,0) scale(0.900,1)" text-anchor="middle">l</text><text transform="translate(55.43,0) scale(0.900,1)" text-anchor="middle">2</text><text transform="translate(60.25,0) scale(0.900,1)" text-anchor="middle">0</text><text transform="translate(65.07,0) scale(0.900,1)" text-anchor="middle">1</text><text transform="translate(69.89,0) scale(0.900,1)" text-anchor="middle">9</text></g></g>
<g transform="translate(843.85,490) rotate(90)"><g font-family="&quot;Liberation Serif&quot;, serif" font-size="11.2" fill="#525252" stroke="#525252" stroke-width="0.18"><text transform="translate(2.41,0) scale(0.723,1)" text-anchor="middle">C</text><text transform="translate(7.23,0) scale(0.900,1)" text-anchor="middle">h</text><text transform="translate(12.05,0) scale(0.900,1)" text-anchor="middle">e</text><text transform="translate(16.87,0) scale(0.900,1)" text-anchor="middle">n</text><text transform="translate(26.51,0) scale(0.900,1)" text-anchor="middle">2</text><text transform="translate(31.33,0) scale(0.900,1)" text-anchor="middle">0</text><text transform="translate(36.15,0) scale(0.900,1)" text-anchor="middle">1</text><text transform="translate(40.97,0) scale(0.900,1)" text-anchor="middle">7</text></g></g>
<g transform="translate(864.43,490) rotate(90)"><g font-family="&quot;Liberation Serif&quot;, serif" font-size="11.2" fill="#525252" stroke="#525252" stroke-width="0.18"><text transform="translate(2.41,0) scale(0.723,1)" text-anchor="middle">C</text><text transform="translate(7.23,0) scale(0.900,1)" text-anchor="middle">h</text><text transform="translate(12.05,0) scale(0.900,1)" text-anchor="middle">e</text><text transform="translate(16.87,0) scale(0.900,1)" text-anchor="middle">n</text><text transform="translate(26.51,0) scale(0.900,1)" text-anchor="middle">2</text><text transform="translate(31.33,0) scale(0.900,1)" text-anchor="middle">0</text><text transform="translate(36.15,0) scale(0.900,1)" text-anchor="middle">2</text><text transform="translate(40.97,0) scale(0.900,1)" text-anchor="middle">3</text></g></g>
<g transform="translate(896.2,490) rotate(90)"><g font-family="&quot;Liberation Serif&quot;, serif" font-size="11.2" fill="#525252" stroke="#525252" stroke-width="0.18"><text transform="translate(2.45,0) scale(0.881,1)" text-anchor="middle">S</text><text transform="translate(7.35,0) scale(0.900,1)" text-anchor="middle">t</text><text transform="translate(12.25,0) scale(0.900,1)" text-anchor="middle">u</text><text transform="translate(17.15,0) scale(0.900,1)" text-anchor="middle">d</text><text transform="translate(22.05,0) scale(0.900,1)" text-anchor="middle">y</text><text transform="translate(26.95,0) scale(0.900,1)" text-anchor="middle">_</text><text transform="translate(31.85,0) scale(0.900,1)" text-anchor="middle">I</text><text transform="translate(36.75,0) scale(0.679,1)" text-anchor="middle">D</text></g></g>
<line x1="894.8" y1="490" x2="894.8" y2="529.2" stroke="#525252" stroke-width="0.8"/>
<g transform="translate(896.2,573.50) rotate(90)"><g font-family="&quot;Liberation Serif&quot;, serif" font-size="11.2" fill="#525252" stroke="#525252" stroke-width="0.18"><text transform="translate(2.45,0) scale(0.679,1)" text-anchor="middle">D</text><text transform="translate(7.35,0) scale(0.900,1)" text-anchor="middle">1</text></g></g>
<line x1="894.8" y1="573.50" x2="894.8" y2="583.30" stroke="#525252" stroke-width="0.8"/>
<g transform="translate(896.2,616.60) rotate(90)"><g font-family="&quot;Liberation Serif&quot;, serif" font-size="11.2" fill="#525252" stroke="#525252" stroke-width="0.18"><text transform="translate(2.45,0) scale(0.679,1)" text-anchor="middle">D</text><text transform="translate(7.35,0) scale(0.900,1)" text-anchor="middle">2</text></g></g>
<line x1="894.8" y1="616.60" x2="894.8" y2="626.40" stroke="#525252" stroke-width="0.8"/>
<g transform="translate(896.2,659.70) rotate(90)"><g font-family="&quot;Liberation Serif&quot;, serif" font-size="11.2" fill="#525252" stroke="#525252" stroke-width="0.18"><text transform="translate(2.45,0) scale(0.679,1)" text-anchor="middle">D</text><text transform="translate(7.35,0) scale(0.900,1)" text-anchor="middle">3</text></g></g>
<line x1="894.8" y1="659.70" x2="894.8" y2="669.50" stroke="#525252" stroke-width="0.8"/>
<g transform="translate(896.2,702.80) rotate(90)"><g font-family="&quot;Liberation Serif&quot;, serif" font-size="11.2" fill="#525252" stroke="#525252" stroke-width="0.18"><text transform="translate(2.45,0) scale(0.679,1)" text-anchor="middle">D</text><text transform="translate(7.35,0) scale(0.900,1)" text-anchor="middle">4</text></g></g>
<line x1="894.8" y1="702.80" x2="894.8" y2="712.60" stroke="#525252" stroke-width="0.8"/>
<g transform="translate(896.2,745.90) rotate(90)"><g font-family="&quot;Liberation Serif&quot;, serif" font-size="11.2" fill="#525252" stroke="#525252" stroke-width="0.18"><text transform="translate(2.45,0) scale(0.679,1)" text-anchor="middle">D</text><text transform="translate(7.35,0) scale(0.900,1)" text-anchor="middle">5</text></g></g>
<line x1="894.8" y1="745.90" x2="894.8" y2="755.70" stroke="#525252" stroke-width="0.8"/>
<g transform="translate(896.2,776.75) rotate(90)"><g font-family="&quot;Liberation Serif&quot;, serif" font-size="11.2" fill="#525252" stroke="#525252" stroke-width="0.18"><text transform="translate(2.45,0) scale(0.679,1)" text-anchor="middle">O</text><text transform="translate(7.35,0) scale(0.900,1)" text-anchor="middle">v</text><text transform="translate(12.25,0) scale(0.900,1)" text-anchor="middle">e</text><text transform="translate(17.15,0) scale(0.900,1)" text-anchor="middle">r</text><text transform="translate(22.05,0) scale(0.900,1)" text-anchor="middle">a</text><text transform="translate(26.95,0) scale(0.900,1)" text-anchor="middle">l</text><text transform="translate(31.85,0) scale(0.900,1)" text-anchor="middle">l</text></g></g>
<line x1="894.8" y1="776.75" x2="894.8" y2="811.05" stroke="#525252" stroke-width="0.8"/>
<circle cx="86.60" cy="578.40" r="8.30" fill="#05fa08"/>
<path d="M84.00 578.40H88.40M86.20 576.20V580.60" stroke="#000" stroke-width="1.4"/>
<circle cx="107.19" cy="578.40" r="8.30" fill="#ffff00"/>
<path d="M103.98 578.60H104.98M105.69 578.60H110.59" stroke="#000" stroke-width="1.7"/>
<circle cx="127.77" cy="578.40" r="8.30" fill="#ffff00"/>
<path d="M124.57 578.60H125.57M126.27 578.60H131.17" stroke="#000" stroke-width="1.7"/>
<circle cx="148.35" cy="578.40" r="8.30" fill="#05fa08"/>
<path d="M145.75 578.40H150.16M147.95 576.20V580.60" stroke="#000" stroke-width="1.4"/>
<circle cx="168.94" cy="578.40" r="8.30" fill="#05fa08"/>
<path d="M166.34 578.40H170.74M168.54 576.20V580.60" stroke="#000" stroke-width="1.4"/>
<circle cx="189.53" cy="578.40" r="8.30" fill="#05fa08"/>
<path d="M186.93 578.40H191.33M189.12 576.20V580.60" stroke="#000" stroke-width="1.4"/>
<circle cx="210.11" cy="578.40" r="8.30" fill="#05fa08"/>
<path d="M207.51 578.40H211.91M209.71 576.20V580.60" stroke="#000" stroke-width="1.4"/>
<circle cx="230.69" cy="578.40" r="8.30" fill="#05fa08"/>
<path d="M228.09 578.40H232.50M230.29 576.20V580.60" stroke="#000" stroke-width="1.4"/>
<circle cx="251.28" cy="578.40" r="8.30" fill="#ffff00"/>
<path d="M248.08 578.60H249.08M249.78 578.60H254.68" stroke="#000" stroke-width="1.7"/>
<circle cx="271.87" cy="578.40" r="8.30" fill="#ffff00"/>
<path d="M268.67 578.60H269.67M270.37 578.60H275.26" stroke="#000" stroke-width="1.7"/>
<circle cx="292.45" cy="578.40" r="8.30" fill="#05fa08"/>
<path d="M289.85 578.40H294.25M292.05 576.20V580.60" stroke="#000" stroke-width="1.4"/>
<circle cx="313.03" cy="578.40" r="8.30" fill="#05fa08"/>
<path d="M310.43 578.40H314.83M312.63 576.20V580.60" stroke="#000" stroke-width="1.4"/>
<circle cx="333.62" cy="578.40" r="8.30" fill="#05fa08"/>
<path d="M331.02 578.40H335.42M333.22 576.20V580.60" stroke="#000" stroke-width="1.4"/>
<circle cx="354.21" cy="578.40" r="8.30" fill="#05fa08"/>
<path d="M351.61 578.40H356.01M353.81 576.20V580.60" stroke="#000" stroke-width="1.4"/>
<circle cx="374.79" cy="578.40" r="8.30" fill="#05fa08"/>
<path d="M372.19 578.40H376.59M374.39 576.20V580.60" stroke="#000" stroke-width="1.4"/>
<circle cx="395.38" cy="578.40" r="8.30" fill="#ffff00"/>
<path d="M392.18 578.60H393.18M393.88 578.60H398.77" stroke="#000" stroke-width="1.7"/>
<circle cx="415.96" cy="578.40" r="8.30" fill="#05fa08"/>
<path d="M413.36 578.40H417.76M415.56 576.20V580.60" stroke="#000" stroke-width="1.4"/>
<circle cx="436.54" cy="578.40" r="8.30" fill="#05fa08"/>
<path d="M433.94 578.40H438.34M436.14 576.20V580.60" stroke="#000" stroke-width="1.4"/>
<circle cx="457.13" cy="578.40" r="8.30" fill="#05fa08"/>
<path d="M454.53 578.40H458.93M456.73 576.20V580.60" stroke="#000" stroke-width="1.4"/>
<circle cx="477.72" cy="578.40" r="8.30" fill="#ffff00"/>
<path d="M474.52 578.60H475.52M476.22 578.60H481.12" stroke="#000" stroke-width="1.7"/>
<circle cx="498.30" cy="578.40" r="8.30" fill="#05fa08"/>
<path d="M495.70 578.40H500.10M497.90 576.20V580.60" stroke="#000" stroke-width="1.4"/>
<circle cx="518.88" cy="578.40" r="8.30" fill="#ffff00"/>
<path d="M515.68 578.60H516.68M517.38 578.60H522.28" stroke="#000" stroke-width="1.7"/>
<circle cx="539.47" cy="578.40" r="8.30" fill="#05fa08"/>
<path d="M536.87 578.40H541.27M539.07 576.20V580.60" stroke="#000" stroke-width="1.4"/>
<circle cx="560.06" cy="578.40" r="8.30" fill="#ffff00"/>
<path d="M556.86 578.60H557.86M558.56 578.60H563.46" stroke="#000" stroke-width="1.7"/>
<circle cx="580.64" cy="578.40" r="8.30" fill="#05fa08"/>
<path d="M578.04 578.40H582.44M580.24 576.20V580.60" stroke="#000" stroke-width="1.4"/>
<circle cx="601.23" cy="578.40" r="8.30" fill="#ffff00"/>
<path d="M598.02 578.60H599.02M599.73 578.60H604.62" stroke="#000" stroke-width="1.7"/>
<circle cx="621.81" cy="578.40" r="8.30" fill="#05fa08"/>
<path d="M619.21 578.40H623.61M621.41 576.20V580.60" stroke="#000" stroke-width="1.4"/>
<circle cx="642.40" cy="578.40" r="8.30" fill="#ffff00"/>
<path d="M639.20 578.60H640.20M640.90 578.60H645.80" stroke="#000" stroke-width="1.7"/>
<circle cx="662.98" cy="578.40" r="8.30" fill="#ffff00"/>
<path d="M659.78 578.60H660.78M661.48 578.60H666.38" stroke="#000" stroke-width="1.7"/>
<circle cx="683.57" cy="578.40" r="8.30" fill="#05fa08"/>
<path d="M680.97 578.40H685.37M683.17 576.20V580.60" stroke="#000" stroke-width="1.4"/>
<circle cx="704.15" cy="578.40" r="8.30" fill="#ffff00"/>
<path d="M700.95 578.60H701.95M702.65 578.60H707.55" stroke="#000" stroke-width="1.7"/>
<circle cx="724.74" cy="578.40" r="8.30" fill="#ffff00"/>
<path d="M721.53 578.60H722.53M723.24 578.60H728.13" stroke="#000" stroke-width="1.7"/>
<circle cx="745.32" cy="578.40" r="8.30" fill="#05fa08"/>
<path d="M742.72 578.40H747.12M744.92 576.20V580.60" stroke="#000" stroke-width="1.4"/>
<circle cx="765.91" cy="578.40" r="8.30" fill="#05fa08"/>
<path d="M763.31 578.40H767.71M765.51 576.20V580.60" stroke="#000" stroke-width="1.4"/>
<circle cx="786.49" cy="578.40" r="8.30" fill="#05fa08"/>
<path d="M783.89 578.40H788.29M786.09 576.20V580.60" stroke="#000" stroke-width="1.4"/>
<circle cx="807.08" cy="578.40" r="8.30" fill="#05fa08"/>
<path d="M804.48 578.40H808.88M806.68 576.20V580.60" stroke="#000" stroke-width="1.4"/>
<circle cx="827.66" cy="578.40" r="8.30" fill="#05fa08"/>
<path d="M825.06 578.40H829.46M827.26 576.20V580.60" stroke="#000" stroke-width="1.4"/>
<circle cx="848.25" cy="578.40" r="8.30" fill="#ffff00"/>
<path d="M845.04 578.60H846.04M846.75 578.60H851.64" stroke="#000" stroke-width="1.7"/>
<circle cx="868.83" cy="578.40" r="8.30" fill="#05fa08"/>
<path d="M866.23 578.40H870.63M868.43 576.20V580.60" stroke="#000" stroke-width="1.4"/>
<circle cx="86.60" cy="621.50" r="8.30" fill="#05fa08"/>
<path d="M84.00 621.50H88.40M86.20 619.30V623.70" stroke="#000" stroke-width="1.4"/>
<circle cx="107.19" cy="621.50" r="8.30" fill="#05fa08"/>
<path d="M104.59 621.50H108.98M106.78 619.30V623.70" stroke="#000" stroke-width="1.4"/>
<circle cx="127.77" cy="621.50" r="8.30" fill="#05fa08"/>
<path d="M125.17 621.50H129.57M127.37 619.30V623.70" stroke="#000" stroke-width="1.4"/>
<circle cx="148.35" cy="621.50" r="8.30" fill="#05fa08"/>
<path d="M145.75 621.50H150.16M147.95 619.30V623.70" stroke="#000" stroke-width="1.4"/>
<circle cx="168.94" cy="621.50" r="8.30" fill="#05fa08"/>
<path d="M166.34 621.50H170.74M168.54 619.30V623.70" stroke="#000" stroke-width="1.4"/>
<circle cx="189.53" cy="621.50" r="8.30" fill="#05fa08"/>
<path d="M186.93 621.50H191.33M189.12 619.30V623.70" stroke="#000" stroke-width="1.4"/>
<circle cx="210.11" cy="621.50" r="8.30" fill="#05fa08"/>
<path d="M207.51 621.50H211.91M209.71 619.30V623.70" stroke="#000" stroke-width="1.4"/>
<circle cx="230.69" cy="621.50" r="8.30" fill="#05fa08"/>
<path d="M228.09 621.50H232.50M230.29 619.30V623.70" stroke="#000" stroke-width="1.4"/>
<circle cx="251.28" cy="621.50" r="8.30" fill="#05fa08"/>
<path d="M248.68 621.50H253.08M250.88 619.30V623.70" stroke="#000" stroke-width="1.4"/>
<circle cx="271.87" cy="621.50" r="8.30" fill="#05fa08"/>
<path d="M269.26 621.50H273.67M271.47 619.30V623.70" stroke="#000" stroke-width="1.4"/>
<circle cx="292.45" cy="621.50" r="8.30" fill="#05fa08"/>
<path d="M289.85 621.50H294.25M292.05 619.30V623.70" stroke="#000" stroke-width="1.4"/>
<circle cx="313.03" cy="621.50" r="8.30" fill="#05fa08"/>
<path d="M310.43 621.50H314.83M312.63 619.30V623.70" stroke="#000" stroke-width="1.4"/>
<circle cx="333.62" cy="621.50" r="8.30" fill="#05fa08"/>
<path d="M331.02 621.50H335.42M333.22 619.30V623.70" stroke="#000" stroke-width="1.4"/>
<circle cx="354.21" cy="621.50" r="8.30" fill="#05fa08"/>
<path d="M351.61 621.50H356.01M353.81 619.30V623.70" stroke="#000" stroke-width="1.4"/>
<circle cx="374.79" cy="621.50" r="8.30" fill="#05fa08"/>
<path d="M372.19 621.50H376.59M374.39 619.30V623.70" stroke="#000" stroke-width="1.4"/>
<circle cx="395.38" cy="621.50" r="8.30" fill="#05fa08"/>
<path d="M392.77 621.50H397.18M394.98 619.30V623.70" stroke="#000" stroke-width="1.4"/>
<circle cx="415.96" cy="621.50" r="8.30" fill="#05fa08"/>
<path d="M413.36 621.50H417.76M415.56 619.30V623.70" stroke="#000" stroke-width="1.4"/>
<circle cx="436.54" cy="621.50" r="8.30" fill="#05fa08"/>
<path d="M433.94 621.50H438.34M436.14 619.30V623.70" stroke="#000" stroke-width="1.4"/>
<circle cx="457.13" cy="621.50" r="8.30" fill="#05fa08"/>
<path d="M454.53 621.50H458.93M456.73 619.30V623.70" stroke="#000" stroke-width="1.4"/>
<circle cx="477.72" cy="621.50" r="8.30" fill="#05fa08"/>
<path d="M475.12 621.50H479.52M477.32 619.30V623.70" stroke="#000" stroke-width="1.4"/>
<circle cx="498.30" cy="621.50" r="8.30" fill="#05fa08"/>
<path d="M495.70 621.50H500.10M497.90 619.30V623.70" stroke="#000" stroke-width="1.4"/>
<circle cx="518.88" cy="621.50" r="8.30" fill="#05fa08"/>
<path d="M516.28 621.50H520.68M518.49 619.30V623.70" stroke="#000" stroke-width="1.4"/>
<circle cx="539.47" cy="621.50" r="8.30" fill="#05fa08"/>
<path d="M536.87 621.50H541.27M539.07 619.30V623.70" stroke="#000" stroke-width="1.4"/>
<circle cx="560.06" cy="621.50" r="8.30" fill="#05fa08"/>
<path d="M557.46 621.50H561.86M559.66 619.30V623.70" stroke="#000" stroke-width="1.4"/>
<circle cx="580.64" cy="621.50" r="8.30" fill="#05fa08"/>
<path d="M578.04 621.50H582.44M580.24 619.30V623.70" stroke="#000" stroke-width="1.4"/>
<circle cx="601.23" cy="621.50" r="8.30" fill="#05fa08"/>
<path d="M598.62 621.50H603.02M600.83 619.30V623.70" stroke="#000" stroke-width="1.4"/>
<circle cx="621.81" cy="621.50" r="8.30" fill="#05fa08"/>
<path d="M619.21 621.50H623.61M621.41 619.30V623.70" stroke="#000" stroke-width="1.4"/>
<circle cx="642.40" cy="621.50" r="8.30" fill="#05fa08"/>
<path d="M639.80 621.50H644.20M642.00 619.30V623.70" stroke="#000" stroke-width="1.4"/>
<circle cx="662.98" cy="621.50" r="8.30" fill="#05fa08"/>
<path d="M660.38 621.50H664.78M662.58 619.30V623.70" stroke="#000" stroke-width="1.4"/>
<circle cx="683.57" cy="621.50" r="8.30" fill="#05fa08"/>
<path d="M680.97 621.50H685.37M683.17 619.30V623.70" stroke="#000" stroke-width="1.4"/>
<circle cx="704.15" cy="621.50" r="8.30" fill="#05fa08"/>
<path d="M701.55 621.50H705.95M703.75 619.30V623.70" stroke="#000" stroke-width="1.4"/>
<circle cx="724.74" cy="621.50" r="8.30" fill="#05fa08"/>
<path d="M722.13 621.50H726.53M724.34 619.30V623.70" stroke="#000" stroke-width="1.4"/>
<circle cx="745.32" cy="621.50" r="8.30" fill="#05fa08"/>
<path d="M742.72 621.50H747.12M744.92 619.30V623.70" stroke="#000" stroke-width="1.4"/>
<circle cx="765.91" cy="621.50" r="8.30" fill="#05fa08"/>
<path d="M763.31 621.50H767.71M765.51 619.30V623.70" stroke="#000" stroke-width="1.4"/>
<circle cx="786.49" cy="621.50" r="8.30" fill="#05fa08"/>
<path d="M783.89 621.50H788.29M786.09 619.30V623.70" stroke="#000" stroke-width="1.4"/>
<circle cx="807.08" cy="621.50" r="8.30" fill="#05fa08"/>
<path d="M804.48 621.50H808.88M806.68 619.30V623.70" stroke="#000" stroke-width="1.4"/>
<circle cx="827.66" cy="621.50" r="8.30" fill="#05fa08"/>
<path d="M825.06 621.50H829.46M827.26 619.30V623.70" stroke="#000" stroke-width="1.4"/>
<circle cx="848.25" cy="621.50" r="8.30" fill="#05fa08"/>
<path d="M845.64 621.50H850.04M847.85 619.30V623.70" stroke="#000" stroke-width="1.4"/>
<circle cx="868.83" cy="621.50" r="8.30" fill="#05fa08"/>
<path d="M866.23 621.50H870.63M868.43 619.30V623.70" stroke="#000" stroke-width="1.4"/>
<circle cx="86.60" cy="664.60" r="8.30" fill="#05fa08"/>
<path d="M84.00 664.60H88.40M86.20 662.40V666.80" stroke="#000" stroke-width="1.4"/>
<circle cx="107.19" cy="664.60" r="8.30" fill="#05fa08"/>
<path d="M104.59 664.60H108.98M106.78 662.40V666.80" stroke="#000" stroke-width="1.4"/>
<circle cx="127.77" cy="664.60" r="8.30" fill="#05fa08"/>
<path d="M125.17 664.60H129.57M127.37 662.40V666.80" stroke="#000" stroke-width="1.4"/>
<circle cx="148.35" cy="664.60" r="8.30" fill="#05fa08"/>
<path d="M145.75 664.60H150.16M147.95 662.40V666.80" stroke="#000" stroke-width="1.4"/>
<circle cx="168.94" cy="664.60" r="8.30" fill="#05fa08"/>
<path d="M166.34 664.60H170.74M168.54 662.40V666.80" stroke="#000" stroke-width="1.4"/>
<circle cx="189.53" cy="664.60" r="8.30" fill="#05fa08"/>
<path d="M186.93 664.60H191.33M189.12 662.40V666.80" stroke="#000" stroke-width="1.4"/>
<circle cx="210.11" cy="664.60" r="8.30" fill="#05fa08"/>
<path d="M207.51 664.60H211.91M209.71 662.40V666.80" stroke="#000" stroke-width="1.4"/>
<circle cx="230.69" cy="664.60" r="8.30" fill="#05fa08"/>
<path d="M228.09 664.60H232.50M230.29 662.40V666.80" stroke="#000" stroke-width="1.4"/>
<circle cx="251.28" cy="664.60" r="8.30" fill="#05fa08"/>
<path d="M248.68 664.60H253.08M250.88 662.40V666.80" stroke="#000" stroke-width="1.4"/>
<circle cx="271.87" cy="664.60" r="8.30" fill="#05fa08"/>
<path d="M269.26 664.60H273.67M271.47 662.40V666.80" stroke="#000" stroke-width="1.4"/>
<circle cx="292.45" cy="664.60" r="8.30" fill="#05fa08"/>
<path d="M289.85 664.60H294.25M292.05 662.40V666.80" stroke="#000" stroke-width="1.4"/>
<circle cx="313.03" cy="664.60" r="8.30" fill="#05fa08"/>
<path d="M310.43 664.60H314.83M312.63 662.40V666.80" stroke="#000" stroke-width="1.4"/>
<circle cx="333.62" cy="664.60" r="8.30" fill="#05fa08"/>
<path d="M331.02 664.60H335.42M333.22 662.40V666.80" stroke="#000" stroke-width="1.4"/>
<circle cx="354.21" cy="664.60" r="8.30" fill="#05fa08"/>
<path d="M351.61 664.60H356.01M353.81 662.40V666.80" stroke="#000" stroke-width="1.4"/>
<circle cx="374.79" cy="664.60" r="8.30" fill="#05fa08"/>
<path d="M372.19 664.60H376.59M374.39 662.40V666.80" stroke="#000" stroke-width="1.4"/>
<circle cx="395.38" cy="664.60" r="8.30" fill="#05fa08"/>
<path d="M392.77 664.60H397.18M394.98 662.40V666.80" stroke="#000" stroke-width="1.4"/>
<circle cx="415.96" cy="664.60" r="8.30" fill="#05fa08"/>
<path d="M413.36 664.60H417.76M415.56 662.40V666.80" stroke="#000" stroke-width="1.4"/>
<circle cx="436.54" cy="664.60" r="8.30" fill="#05fa08"/>
<path d="M433.94 664.60H438.34M436.14 662.40V666.80" stroke="#000" stroke-width="1.4"/>
<circle cx="457.13" cy="664.60" r="8.30" fill="#05fa08"/>
<path d="M454.53 664.60H458.93M456.73 662.40V666.80" stroke="#000" stroke-width="1.4"/>
<circle cx="477.72" cy="664.60" r="8.30" fill="#05fa08"/>
<path d="M475.12 664.60H479.52M477.32 662.40V666.80" stroke="#000" stroke-width="1.4"/>
<circle cx="498.30" cy="664.60" r="8.30" fill="#05fa08"/>
<path d="M495.70 664.60H500.10M497.90 662.40V666.80" stroke="#000" stroke-width="1.4"/>
<circle cx="518.88" cy="664.60" r="8.30" fill="#05fa08"/>
<path d="M516.28 664.60H520.68M518.49 662.40V666.80" stroke="#000" stroke-width="1.4"/>
<circle cx="539.47" cy="664.60" r="8.30" fill="#05fa08"/>
<path d="M536.87 664.60H541.27M539.07 662.40V666.80" stroke="#000" stroke-width="1.4"/>
<circle cx="560.06" cy="664.60" r="8.30" fill="#05fa08"/>
<path d="M557.46 664.60H561.86M559.66 662.40V666.80" stroke="#000" stroke-width="1.4"/>
<circle cx="580.64" cy="664.60" r="8.30" fill="#05fa08"/>
<path d="M578.04 664.60H582.44M580.24 662.40V666.80" stroke="#000" stroke-width="1.4"/>
<circle cx="601.23" cy="664.60" r="8.30" fill="#05fa08"/>
<path d="M598.62 664.60H603.02M600.83 662.40V666.80" stroke="#000" stroke-width="1.4"/>
<circle cx="621.81" cy="664.60" r="8.30" fill="#05fa08"/>
<path d="M619.21 664.60H623.61M621.41 662.40V666.80" stroke="#000" stroke-width="1.4"/>
<circle cx="642.40" cy="664.60" r="8.30" fill="#05fa08"/>
<path d="M639.80 664.60H644.20M642.00 662.40V666.80" stroke="#000" stroke-width="1.4"/>
<circle cx="662.98" cy="664.60" r="8.30" fill="#05fa08"/>
<path d="M660.38 664.60H664.78M662.58 662.40V666.80" stroke="#000" stroke-width="1.4"/>
<circle cx="683.57" cy="664.60" r="8.30" fill="#05fa08"/>
<path d="M680.97 664.60H685.37M683.17 662.40V666.80" stroke="#000" stroke-width="1.4"/>
<circle cx="704.15" cy="664.60" r="8.30" fill="#05fa08"/>
<path d="M701.55 664.60H705.95M703.75 662.40V666.80" stroke="#000" stroke-width="1.4"/>
<circle cx="724.74" cy="664.60" r="8.30" fill="#05fa08"/>
<path d="M722.13 664.60H726.53M724.34 662.40V666.80" stroke="#000" stroke-width="1.4"/>
<circle cx="745.32" cy="664.60" r="8.30" fill="#05fa08"/>
<path d="M742.72 664.60H747.12M744.92 662.40V666.80" stroke="#000" stroke-width="1.4"/>
<circle cx="765.91" cy="664.60" r="8.30" fill="#05fa08"/>
<path d="M763.31 664.60H767.71M765.51 662.40V666.80" stroke="#000" stroke-width="1.4"/>
<circle cx="786.49" cy="664.60" r="8.30" fill="#05fa08"/>
<path d="M783.89 664.60H788.29M786.09 662.40V666.80" stroke="#000" stroke-width="1.4"/>
<circle cx="807.08" cy="664.60" r="8.30" fill="#05fa08"/>
<path d="M804.48 664.60H808.88M806.68 662.40V666.80" stroke="#000" stroke-width="1.4"/>
<circle cx="827.66" cy="664.60" r="8.30" fill="#05fa08"/>
<path d="M825.06 664.60H829.46M827.26 662.40V666.80" stroke="#000" stroke-width="1.4"/>
<circle cx="848.25" cy="664.60" r="8.30" fill="#05fa08"/>
<path d="M845.64 664.60H850.04M847.85 662.40V666.80" stroke="#000" stroke-width="1.4"/>
<circle cx="868.83" cy="664.60" r="8.30" fill="#05fa08"/>
<path d="M866.23 664.60H870.63M868.43 662.40V666.80" stroke="#000" stroke-width="1.4"/>
<circle cx="86.60" cy="707.70" r="8.30" fill="#ff0000"/>
<path d="M85.60 706.70V709.40" stroke="#000" stroke-width="1.4" stroke-linecap="round"/>
<circle cx="107.19" cy="707.70" r="8.30" fill="#ff0000"/>
<path d="M106.19 706.70V709.40" stroke="#000" stroke-width="1.4" stroke-linecap="round"/>
<circle cx="127.77" cy="707.70" r="8.30" fill="#ff0000"/>
<path d="M126.77 706.70V709.40" stroke="#000" stroke-width="1.4" stroke-linecap="round"/>
<circle cx="148.35" cy="707.70" r="8.30" fill="#ff0000"/>
<path d="M147.35 706.70V709.40" stroke="#000" stroke-width="1.4" stroke-linecap="round"/>
<circle cx="168.94" cy="707.70" r="8.30" fill="#05fa08"/>
<path d="M166.34 707.70H170.74M168.54 705.50V709.90" stroke="#000" stroke-width="1.4"/>
<circle cx="189.53" cy="707.70" r="8.30" fill="#05fa08"/>
<path d="M186.93 707.70H191.33M189.12 705.50V709.90" stroke="#000" stroke-width="1.4"/>
<circle cx="210.11" cy="707.70" r="8.30" fill="#05fa08"/>
<path d="M207.51 707.70H211.91M209.71 705.50V709.90" stroke="#000" stroke-width="1.4"/>
<circle cx="230.69" cy="707.70" r="8.30" fill="#ff0000"/>
<path d="M229.69 706.70V709.40" stroke="#000" stroke-width="1.4" stroke-linecap="round"/>
<circle cx="251.28" cy="707.70" r="8.30" fill="#05fa08"/>
<path d="M248.68 707.70H253.08M250.88 705.50V709.90" stroke="#000" stroke-width="1.4"/>
<circle cx="271.87" cy="707.70" r="8.30" fill="#ff0000"/>
<path d="M270.87 706.70V709.40" stroke="#000" stroke-width="1.4" stroke-linecap="round"/>
<circle cx="292.45" cy="707.70" r="8.30" fill="#05fa08"/>
<path d="M289.85 707.70H294.25M292.05 705.50V709.90" stroke="#000" stroke-width="1.4"/>
<circle cx="313.03" cy="707.70" r="8.30" fill="#05fa08"/>
<path d="M310.43 707.70H314.83M312.63 705.50V709.90" stroke="#000" stroke-width="1.4"/>
<circle cx="333.62" cy="707.70" r="8.30" fill="#ff0000"/>
<path d="M332.62 706.70V709.40" stroke="#000" stroke-width="1.4" stroke-linecap="round"/>
<circle cx="354.21" cy="707.70" r="8.30" fill="#ff0000"/>
<path d="M353.21 706.70V709.40" stroke="#000" stroke-width="1.4" stroke-linecap="round"/>
<circle cx="374.79" cy="707.70" r="8.30" fill="#05fa08"/>
<path d="M372.19 707.70H376.59M374.39 705.50V709.90" stroke="#000" stroke-width="1.4"/>
<circle cx="395.38" cy="707.70" r="8.30" fill="#05fa08"/>
<path d="M392.77 707.70H397.18M394.98 705.50V709.90" stroke="#000" stroke-width="1.4"/>
<circle cx="415.96" cy="707.70" r="8.30" fill="#ff0000"/>
<path d="M414.96 706.70V709.40" stroke="#000" stroke-width="1.4" stroke-linecap="round"/>
<circle cx="436.54" cy="707.70" r="8.30" fill="#05fa08"/>
<path d="M433.94 707.70H438.34M436.14 705.50V709.90" stroke="#000" stroke-width="1.4"/>
<circle cx="457.13" cy="707.70" r="8.30" fill="#05fa08"/>
<path d="M454.53 707.70H458.93M456.73 705.50V709.90" stroke="#000" stroke-width="1.4"/>
<circle cx="477.72" cy="707.70" r="8.30" fill="#05fa08"/>
<path d="M475.12 707.70H479.52M477.32 705.50V709.90" stroke="#000" stroke-width="1.4"/>
<circle cx="498.30" cy="707.70" r="8.30" fill="#05fa08"/>
<path d="M495.70 707.70H500.10M497.90 705.50V709.90" stroke="#000" stroke-width="1.4"/>
<circle cx="518.88" cy="707.70" r="8.30" fill="#ff0000"/>
<path d="M517.88 706.70V709.40" stroke="#000" stroke-width="1.4" stroke-linecap="round"/>
<circle cx="539.47" cy="707.70" r="8.30" fill="#ff0000"/>
<path d="M538.47 706.70V709.40" stroke="#000" stroke-width="1.4" stroke-linecap="round"/>
<circle cx="560.06" cy="707.70" r="8.30" fill="#05fa08"/>
<path d="M557.46 707.70H561.86M559.66 705.50V709.90" stroke="#000" stroke-width="1.4"/>
<circle cx="580.64" cy="707.70" r="8.30" fill="#05fa08"/>
<path d="M578.04 707.70H582.44M580.24 705.50V709.90" stroke="#000" stroke-width="1.4"/>
<circle cx="601.23" cy="707.70" r="8.30" fill="#ff0000"/>
<path d="M600.23 706.70V709.40" stroke="#000" stroke-width="1.4" stroke-linecap="round"/>
<circle cx="621.81" cy="707.70" r="8.30" fill="#ff0000"/>
<path d="M620.81 706.70V709.40" stroke="#000" stroke-width="1.4" stroke-linecap="round"/>
<circle cx="642.40" cy="707.70" r="8.30" fill="#05fa08"/>
<path d="M639.80 707.70H644.20M642.00 705.50V709.90" stroke="#000" stroke-width="1.4"/>
<circle cx="662.98" cy="707.70" r="8.30" fill="#05fa08"/>
<path d="M660.38 707.70H664.78M662.58 705.50V709.90" stroke="#000" stroke-width="1.4"/>
<circle cx="683.57" cy="707.70" r="8.30" fill="#05fa08"/>
<path d="M680.97 707.70H685.37M683.17 705.50V709.90" stroke="#000" stroke-width="1.4"/>
<circle cx="704.15" cy="707.70" r="8.30" fill="#ff0000"/>
<path d="M703.15 706.70V709.40" stroke="#000" stroke-width="1.4" stroke-linecap="round"/>
<circle cx="724.74" cy="707.70" r="8.30" fill="#05fa08"/>
<path d="M722.13 707.70H726.53M724.34 705.50V709.90" stroke="#000" stroke-width="1.4"/>
<circle cx="745.32" cy="707.70" r="8.30" fill="#05fa08"/>
<path d="M742.72 707.70H747.12M744.92 705.50V709.90" stroke="#000" stroke-width="1.4"/>
<circle cx="765.91" cy="707.70" r="8.30" fill="#ff0000"/>
<path d="M764.91 706.70V709.40" stroke="#000" stroke-width="1.4" stroke-linecap="round"/>
<circle cx="786.49" cy="707.70" r="8.30" fill="#05fa08"/>
<path d="M783.89 707.70H788.29M786.09 705.50V709.90" stroke="#000" stroke-width="1.4"/>
<circle cx="807.08" cy="707.70" r="8.30" fill="#ff0000"/>
<path d="M806.08 706.70V709.40" stroke="#000" stroke-width="1.4" stroke-linecap="round"/>
<circle cx="827.66" cy="707.70" r="8.30" fill="#ff0000"/>
<path d="M826.66 706.70V709.40" stroke="#000" stroke-width="1.4" stroke-linecap="round"/>
<circle cx="848.25" cy="707.70" r="8.30" fill="#05fa08"/>
<path d="M845.64 707.70H850.04M847.85 705.50V709.90" stroke="#000" stroke-width="1.4"/>
<circle cx="868.83" cy="707.70" r="8.30" fill="#05fa08"/>
<path d="M866.23 707.70H870.63M868.43 705.50V709.90" stroke="#000" stroke-width="1.4"/>
<circle cx="86.60" cy="750.80" r="8.30" fill="#05fa08"/>
<path d="M84.00 750.80H88.40M86.20 748.60V753.00" stroke="#000" stroke-width="1.4"/>
<circle cx="107.19" cy="750.80" r="8.30" fill="#05fa08"/>
<path d="M104.59 750.80H108.98M106.78 748.60V753.00" stroke="#000" stroke-width="1.4"/>
<circle cx="127.77" cy="750.80" r="8.30" fill="#05fa08"/>
<path d="M125.17 750.80H129.57M127.37 748.60V753.00" stroke="#000" stroke-width="1.4"/>
<circle cx="148.35" cy="750.80" r="8.30" fill="#05fa08"/>
<path d="M145.75 750.80H150.16M147.95 748.60V753.00" stroke="#000" stroke-width="1.4"/>
<circle cx="168.94" cy="750.80" r="8.30" fill="#05fa08"/>
<path d="M166.34 750.80H170.74M168.54 748.60V753.00" stroke="#000" stroke-width="1.4"/>
<circle cx="189.53" cy="750.80" r="8.30" fill="#05fa08"/>
<path d="M186.93 750.80H191.33M189.12 748.60V753.00" stroke="#000" stroke-width="1.4"/>
<circle cx="210.11" cy="750.80" r="8.30" fill="#05fa08"/>
<path d="M207.51 750.80H211.91M209.71 748.60V753.00" stroke="#000" stroke-width="1.4"/>
<circle cx="230.69" cy="750.80" r="8.30" fill="#05fa08"/>
<path d="M228.09 750.80H232.50M230.29 748.60V753.00" stroke="#000" stroke-width="1.4"/>
<circle cx="251.28" cy="750.80" r="8.30" fill="#05fa08"/>
<path d="M248.68 750.80H253.08M250.88 748.60V753.00" stroke="#000" stroke-width="1.4"/>
<circle cx="271.87" cy="750.80" r="8.30" fill="#05fa08"/>
<path d="M269.26 750.80H273.67M271.47 748.60V753.00" stroke="#000" stroke-width="1.4"/>
<circle cx="292.45" cy="750.80" r="8.30" fill="#05fa08"/>
<path d="M289.85 750.80H294.25M292.05 748.60V753.00" stroke="#000" stroke-width="1.4"/>
<circle cx="313.03" cy="750.80" r="8.30" fill="#05fa08"/>
<path d="M310.43 750.80H314.83M312.63 748.60V753.00" stroke="#000" stroke-width="1.4"/>
<circle cx="333.62" cy="750.80" r="8.30" fill="#05fa08"/>
<path d="M331.02 750.80H335.42M333.22 748.60V753.00" stroke="#000" stroke-width="1.4"/>
<circle cx="354.21" cy="750.80" r="8.30" fill="#05fa08"/>
<path d="M351.61 750.80H356.01M353.81 748.60V753.00" stroke="#000" stroke-width="1.4"/>
<circle cx="374.79" cy="750.80" r="8.30" fill="#05fa08"/>
<path d="M372.19 750.80H376.59M374.39 748.60V753.00" stroke="#000" stroke-width="1.4"/>
<circle cx="395.38" cy="750.80" r="8.30" fill="#05fa08"/>
<path d="M392.77 750.80H397.18M394.98 748.60V753.00" stroke="#000" stroke-width="1.4"/>
<circle cx="415.96" cy="750.80" r="8.30" fill="#05fa08"/>
<path d="M413.36 750.80H417.76M415.56 748.60V753.00" stroke="#000" stroke-width="1.4"/>
<circle cx="436.54" cy="750.80" r="8.30" fill="#05fa08"/>
<path d="M433.94 750.80H438.34M436.14 748.60V753.00" stroke="#000" stroke-width="1.4"/>
<circle cx="457.13" cy="750.80" r="8.30" fill="#05fa08"/>
<path d="M454.53 750.80H458.93M456.73 748.60V753.00" stroke="#000" stroke-width="1.4"/>
<circle cx="477.72" cy="750.80" r="8.30" fill="#05fa08"/>
<path d="M475.12 750.80H479.52M477.32 748.60V753.00" stroke="#000" stroke-width="1.4"/>
<circle cx="498.30" cy="750.80" r="8.30" fill="#05fa08"/>
<path d="M495.70 750.80H500.10M497.90 748.60V753.00" stroke="#000" stroke-width="1.4"/>
<circle cx="518.88" cy="750.80" r="8.30" fill="#05fa08"/>
<path d="M516.28 750.80H520.68M518.49 748.60V753.00" stroke="#000" stroke-width="1.4"/>
<circle cx="539.47" cy="750.80" r="8.30" fill="#05fa08"/>
<path d="M536.87 750.80H541.27M539.07 748.60V753.00" stroke="#000" stroke-width="1.4"/>
<circle cx="560.06" cy="750.80" r="8.30" fill="#05fa08"/>
<path d="M557.46 750.80H561.86M559.66 748.60V753.00" stroke="#000" stroke-width="1.4"/>
<circle cx="580.64" cy="750.80" r="8.30" fill="#05fa08"/>
<path d="M578.04 750.80H582.44M580.24 748.60V753.00" stroke="#000" stroke-width="1.4"/>
<circle cx="601.23" cy="750.80" r="8.30" fill="#05fa08"/>
<path d="M598.62 750.80H603.02M600.83 748.60V753.00" stroke="#000" stroke-width="1.4"/>
<circle cx="621.81" cy="750.80" r="8.30" fill="#05fa08"/>
<path d="M619.21 750.80H623.61M621.41 748.60V753.00" stroke="#000" stroke-width="1.4"/>
<circle cx="642.40" cy="750.80" r="8.30" fill="#05fa08"/>
<path d="M639.80 750.80H644.20M642.00 748.60V753.00" stroke="#000" stroke-width="1.4"/>
<circle cx="662.98" cy="750.80" r="8.30" fill="#05fa08"/>
<path d="M660.38 750.80H664.78M662.58 748.60V753.00" stroke="#000" stroke-width="1.4"/>
<circle cx="683.57" cy="750.80" r="8.30" fill="#05fa08"/>
<path d="M680.97 750.80H685.37M683.17 748.60V753.00" stroke="#000" stroke-width="1.4"/>
<circle cx="704.15" cy="750.80" r="8.30" fill="#05fa08"/>
<path d="M701.55 750.80H705.95M703.75 748.60V753.00" stroke="#000" stroke-width="1.4"/>
<circle cx="724.74" cy="750.80" r="8.30" fill="#05fa08"/>
<path d="M722.13 750.80H726.53M724.34 748.60V753.00" stroke="#000" stroke-width="1.4"/>
<circle cx="745.32" cy="750.80" r="8.30" fill="#05fa08"/>
<path d="M742.72 750.80H747.12M744.92 748.60V753.00" stroke="#000" stroke-width="1.4"/>
<circle cx="765.91" cy="750.80" r="8.30" fill="#05fa08"/>
<path d="M763.31 750.80H767.71M765.51 748.60V753.00" stroke="#000" stroke-width="1.4"/>
<circle cx="786.49" cy="750.80" r="8.30" fill="#05fa08"/>
<path d="M783.89 750.80H788.29M786.09 748.60V753.00" stroke="#000" stroke-width="1.4"/>
<circle cx="807.08" cy="750.80" r="8.30" fill="#05fa08"/>
<path d="M804.48 750.80H808.88M806.68 748.60V753.00" stroke="#000" stroke-width="1.4"/>
<circle cx="827.66" cy="750.80" r="8.30" fill="#05fa08"/>
<path d="M825.06 750.80H829.46M827.26 748.60V753.00" stroke="#000" stroke-width="1.4"/>
<circle cx="848.25" cy="750.80" r="8.30" fill="#05fa08"/>
<path d="M845.64 750.80H850.04M847.85 748.60V753.00" stroke="#000" stroke-width="1.4"/>
<circle cx="868.83" cy="750.80" r="8.30" fill="#05fa08"/>
<path d="M866.23 750.80H870.63M868.43 748.60V753.00" stroke="#000" stroke-width="1.4"/>
<circle cx="86.60" cy="793.90" r="8.30" fill="#ff0000" stroke="#222" stroke-width="0.9"/>
<path d="M85.60 792.90V795.60" stroke="#000" stroke-width="1.4" stroke-linecap="round"/>
<circle cx="107.19" cy="793.90" r="8.30" fill="#ff0000" stroke="#222" stroke-width="0.9"/>
<path d="M106.19 792.90V795.60" stroke="#000" stroke-width="1.4" stroke-linecap="round"/>
<circle cx="127.77" cy="793.90" r="8.30" fill="#ff0000" stroke="#222" stroke-width="0.9"/>
<path d="M126.77 792.90V795.60" stroke="#000" stroke-width="1.4" stroke-linecap="round"/>
<circle cx="148.35" cy="793.90" r="8.30" fill="#ff0000" stroke="#222" stroke-width="0.9"/>
<path d="M147.35 792.90V795.60" stroke="#000" stroke-width="1.4" stroke-linecap="round"/>
<circle cx="168.94" cy="793.90" r="8.30" fill="#05fa08" stroke="#222" stroke-width="0.9"/>
<path d="M166.34 793.90H170.74M168.54 791.70V796.10" stroke="#000" stroke-width="1.4"/>
<circle cx="189.53" cy="793.90" r="8.30" fill="#05fa08" stroke="#222" stroke-width="0.9"/>
<path d="M186.93 793.90H191.33M189.12 791.70V796.10" stroke="#000" stroke-width="1.4"/>
<circle cx="210.11" cy="793.90" r="8.30" fill="#05fa08" stroke="#222" stroke-width="0.9"/>
<path d="M207.51 793.90H211.91M209.71 791.70V796.10" stroke="#000" stroke-width="1.4"/>
<circle cx="230.69" cy="793.90" r="8.30" fill="#ff0000" stroke="#222" stroke-width="0.9"/>
<path d="M229.69 792.90V795.60" stroke="#000" stroke-width="1.4" stroke-linecap="round"/>
<circle cx="251.28" cy="793.90" r="8.30" fill="#ffff00" stroke="#222" stroke-width="0.9"/>
<path d="M248.08 794.10H249.08M249.78 794.10H254.68" stroke="#000" stroke-width="1.7"/>
<circle cx="271.87" cy="793.90" r="8.30" fill="#ff0000" stroke="#222" stroke-width="0.9"/>
<path d="M270.87 792.90V795.60" stroke="#000" stroke-width="1.4" stroke-linecap="round"/>
<circle cx="292.45" cy="793.90" r="8.30" fill="#05fa08" stroke="#222" stroke-width="0.9"/>
<path d="M289.85 793.90H294.25M292.05 791.70V796.10" stroke="#000" stroke-width="1.4"/>
<circle cx="313.03" cy="793.90" r="8.30" fill="#05fa08" stroke="#222" stroke-width="0.9"/>
<path d="M310.43 793.90H314.83M312.63 791.70V796.10" stroke="#000" stroke-width="1.4"/>
<circle cx="333.62" cy="793.90" r="8.30" fill="#ff0000" stroke="#222" stroke-width="0.9"/>
<path d="M332.62 792.90V795.60" stroke="#000" stroke-width="1.4" stroke-linecap="round"/>
<circle cx="354.21" cy="793.90" r="8.30" fill="#ff0000" stroke="#222" stroke-width="0.9"/>
<path d="M353.21 792.90V795.60" stroke="#000" stroke-width="1.4" stroke-linecap="round"/>
<circle cx="374.79" cy="793.90" r="8.30" fill="#05fa08" stroke="#222" stroke-width="0.9"/>
<path d="M372.19 793.90H376.59M374.39 791.70V796.10" stroke="#000" stroke-width="1.4"/>
<circle cx="395.38" cy="793.90" r="8.30" fill="#ffff00" stroke="#222" stroke-width="0.9"/>
<path d="M392.18 794.10H393.18M393.88 794.10H398.77" stroke="#000" stroke-width="1.7"/>
<circle cx="415.96" cy="793.90" r="8.30" fill="#ff0000" stroke="#222" stroke-width="0.9"/>
<path d="M414.96 792.90V795.60" stroke="#000" stroke-width="1.4" stroke-linecap="round"/>
<circle cx="436.54" cy="793.90" r="8.30" fill="#05fa08" stroke="#222" stroke-width="0.9"/>
<path d="M433.94 793.90H438.34M436.14 791.70V796.10" stroke="#000" stroke-width="1.4"/>
<circle cx="457.13" cy="793.90" r="8.30" fill="#05fa08" stroke="#222" stroke-width="0.9"/>
<path d="M454.53 793.90H458.93M456.73 791.70V796.10" stroke="#000" stroke-width="1.4"/>
<circle cx="477.72" cy="793.90" r="8.30" fill="#ffff00" stroke="#222" stroke-width="0.9"/>
<path d="M474.52 794.10H475.52M476.22 794.10H481.12" stroke="#000" stroke-width="1.7"/>
<circle cx="498.30" cy="793.90" r="8.30" fill="#05fa08" stroke="#222" stroke-width="0.9"/>
<path d="M495.70 793.90H500.10M497.90 791.70V796.10" stroke="#000" stroke-width="1.4"/>
<circle cx="518.88" cy="793.90" r="8.30" fill="#ff0000" stroke="#222" stroke-width="0.9"/>
<path d="M517.88 792.90V795.60" stroke="#000" stroke-width="1.4" stroke-linecap="round"/>
<circle cx="539.47" cy="793.90" r="8.30" fill="#ff0000" stroke="#222" stroke-width="0.9"/>
<path d="M538.47 792.90V795.60" stroke="#000" stroke-width="1.4" stroke-linecap="round"/>
<circle cx="560.06" cy="793.90" r="8.30" fill="#ffff00" stroke="#222" stroke-width="0.9"/>
<path d="M556.86 794.10H557.86M558.56 794.10H563.46" stroke="#000" stroke-width="1.7"/>
<circle cx="580.64" cy="793.90" r="8.30" fill="#05fa08" stroke="#222" stroke-width="0.9"/>
<path d="M578.04 793.90H582.44M580.24 791.70V796.10" stroke="#000" stroke-width="1.4"/>
<circle cx="601.23" cy="793.90" r="8.30" fill="#ff0000" stroke="#222" stroke-width="0.9"/>
<path d="M600.23 792.90V795.60" stroke="#000" stroke-width="1.4" stroke-linecap="round"/>
<circle cx="621.81" cy="793.90" r="8.30" fill="#ff0000" stroke="#222" stroke-width="0.9"/>
<path d="M620.81 792.90V795.60" stroke="#000" stroke-width="1.4" stroke-linecap="round"/>
<circle cx="642.40" cy="793.90" r="8.30" fill="#ffff00" stroke="#222" stroke-width="0.9"/>
<path d="M639.20 794.10H640.20M640.90 794.10H645.80" stroke="#000" stroke-width="1.7"/>
<circle cx="662.98" cy="793.90" r="8.30" fill="#ffff00" stroke="#222" stroke-width="0.9"/>
<path d="M659.78 794.10H660.78M661.48 794.10H666.38" stroke="#000" stroke-width="1.7"/>
<circle cx="683.57" cy="793.90" r="8.30" fill="#05fa08" stroke="#222" stroke-width="0.9"/>
<path d="M680.97 793.90H685.37M683.17 791.70V796.10" stroke="#000" stroke-width="1.4"/>
<circle cx="704.15" cy="793.90" r="8.30" fill="#ff0000" stroke="#222" stroke-width="0.9"/>
<path d="M703.15 792.90V795.60" stroke="#000" stroke-width="1.4" stroke-linecap="round"/>
<circle cx="724.74" cy="793.90" r="8.30" fill="#05fa08" stroke="#222" stroke-width="0.9"/>
<path d="M722.13 793.90H726.53M724.34 791.70V796.10" stroke="#000" stroke-width="1.4"/>
<circle cx="745.32" cy="793.90" r="8.30" fill="#05fa08" stroke="#222" stroke-width="0.9"/>
<path d="M742.72 793.90H747.12M744.92 791.70V796.10" stroke="#000" stroke-width="1.4"/>
<circle cx="765.91" cy="793.90" r="8.30" fill="#ff0000" stroke="#222" stroke-width="0.9"/>
<path d="M764.91 792.90V795.60" stroke="#000" stroke-width="1.4" stroke-linecap="round"/>
<circle cx="786.49" cy="793.90" r="8.30" fill="#05fa08" stroke="#222" stroke-width="0.9"/>
<path d="M783.89 793.90H788.29M786.09 791.70V796.10" stroke="#000" stroke-width="1.4"/>
<circle cx="807.08" cy="793.90" r="8.30" fill="#ff0000" stroke="#222" stroke-width="0.9"/>
<path d="M806.08 792.90V795.60" stroke="#000" stroke-width="1.4" stroke-linecap="round"/>
<circle cx="827.66" cy="793.90" r="8.30" fill="#ff0000" stroke="#222" stroke-width="0.9"/>
<path d="M826.66 792.90V795.60" stroke="#000" stroke-width="1.4" stroke-linecap="round"/>
<circle cx="848.25" cy="793.90" r="8.30" fill="#ffff00" stroke="#222" stroke-width="0.9"/>
<path d="M845.04 794.10H846.04M846.75 794.10H851.64" stroke="#000" stroke-width="1.7"/>
<circle cx="868.83" cy="793.90" r="8.30" fill="#05fa08" stroke="#222" stroke-width="0.9"/>
<path d="M866.23 793.90H870.63M868.43 791.70V796.10" stroke="#000" stroke-width="1.4"/>
<circle cx="339.6" cy="829" r="12.4" fill="#05fa08"/>
<path d="M336.60 830.20H343.60M340.10 827.00V833.40" stroke="#000" stroke-width="1.9"/>
<g transform="translate(365.1,835.8)"><g font-family="&quot;Liberation Serif&quot;, serif" font-size="14.8" fill="#3a3a3a" stroke="#3a3a3a" stroke-width="0.15"><text transform="translate(3.55,0) scale(0.825,1)" text-anchor="middle">L</text><text transform="translate(10.65,0) scale(0.920,1)" text-anchor="middle">o</text><text transform="translate(17.75,0) scale(0.698,1)" text-anchor="middle">w</text><text transform="translate(31.95,0) scale(0.920,1)" text-anchor="middle">r</text><text transform="translate(39.05,0) scale(0.920,1)" text-anchor="middle">i</text><text transform="translate(46.15,0) scale(0.920,1)" text-anchor="middle">s</text><text transform="translate(53.25,0) scale(0.920,1)" text-anchor="middle">k</text></g></g>
<circle cx="454.7" cy="829" r="12.4" fill="#ffff00"/>
<path d="M455.30 823.40V831.20" stroke="#000" stroke-width="1.8"/><path d="M455.30 832.60V834.40" stroke="#000" stroke-width="2.0"/>
<g transform="translate(480.5,835.8)"><g font-family="&quot;Liberation Serif&quot;, serif" font-size="14.8" fill="#3a3a3a" stroke="#3a3a3a" stroke-width="0.15"><text transform="translate(3.55,0) scale(0.906,1)" text-anchor="middle">S</text><text transform="translate(10.65,0) scale(0.920,1)" text-anchor="middle">o</text><text transform="translate(17.75,0) scale(0.648,1)" text-anchor="middle">m</text><text transform="translate(24.85,0) scale(0.920,1)" text-anchor="middle">e</text><text transform="translate(39.05,0) scale(0.920,1)" text-anchor="middle">c</text><text transform="translate(46.15,0) scale(0.920,1)" text-anchor="middle">o</text><text transform="translate(53.25,0) scale(0.920,1)" text-anchor="middle">n</text><text transform="translate(60.35,0) scale(0.920,1)" text-anchor="middle">c</text><text transform="translate(67.45,0) scale(0.920,1)" text-anchor="middle">e</text><text transform="translate(74.55,0) scale(0.920,1)" text-anchor="middle">r</text><text transform="translate(81.65,0) scale(0.920,1)" text-anchor="middle">n</text><text transform="translate(88.75,0) scale(0.920,1)" text-anchor="middle">s</text></g></g>
<circle cx="604.3" cy="829" r="12.4" fill="#ff0000"/>
<path d="M601.90 830.50H607.10" stroke="#000" stroke-width="2.0"/>
<g transform="translate(628.8,835.8)"><g font-family="&quot;Liberation Serif&quot;, serif" font-size="14.8" fill="#3a3a3a" stroke="#3a3a3a" stroke-width="0.15"><text transform="translate(3.55,0) scale(0.698,1)" text-anchor="middle">H</text><text transform="translate(10.65,0) scale(0.920,1)" text-anchor="middle">i</text><text transform="translate(17.75,0) scale(0.920,1)" text-anchor="middle">g</text><text transform="translate(24.85,0) scale(0.920,1)" text-anchor="middle">h</text><text transform="translate(39.05,0) scale(0.920,1)" text-anchor="middle">r</text><text transform="translate(46.15,0) scale(0.920,1)" text-anchor="middle">i</text><text transform="translate(53.25,0) scale(0.920,1)" text-anchor="middle">s</text><text transform="translate(60.35,0) scale(0.920,1)" text-anchor="middle">k</text></g></g>
<text x="2.7" y="863.8" font-family="&quot;Liberation Serif&quot;, serif" font-size="14" fill="#000" textLength="149.2" lengthAdjust="spacingAndGlyphs">D1:Randomisation process</text>
<text x="164.1" y="863.8" font-family="&quot;Liberation Serif&quot;, serif" font-size="14" fill="#000" textLength="259.9" lengthAdjust="spacingAndGlyphs">D2:Deviations from the intended interventions</text>
<text x="436.3" y="863.8" font-family="&quot;Liberation Serif&quot;, serif" font-size="14" fill="#000" textLength="142.7" lengthAdjust="spacingAndGlyphs">D3:Missing outcome data</text>
<text x="590.9" y="863.8" font-family="&quot;Liberation Serif&quot;, serif" font-size="14" fill="#000" textLength="182.6" lengthAdjust="spacingAndGlyphs">D4:Measurement of the outcome</text>
<text x="785.7" y="863.8" font-family="&quot;Liberation Serif&quot;, serif" font-size="14" fill="#000" textLength="192.6" lengthAdjust="spacingAndGlyphs">D5:Selection of the reported result</text>
</svg></body></html>
